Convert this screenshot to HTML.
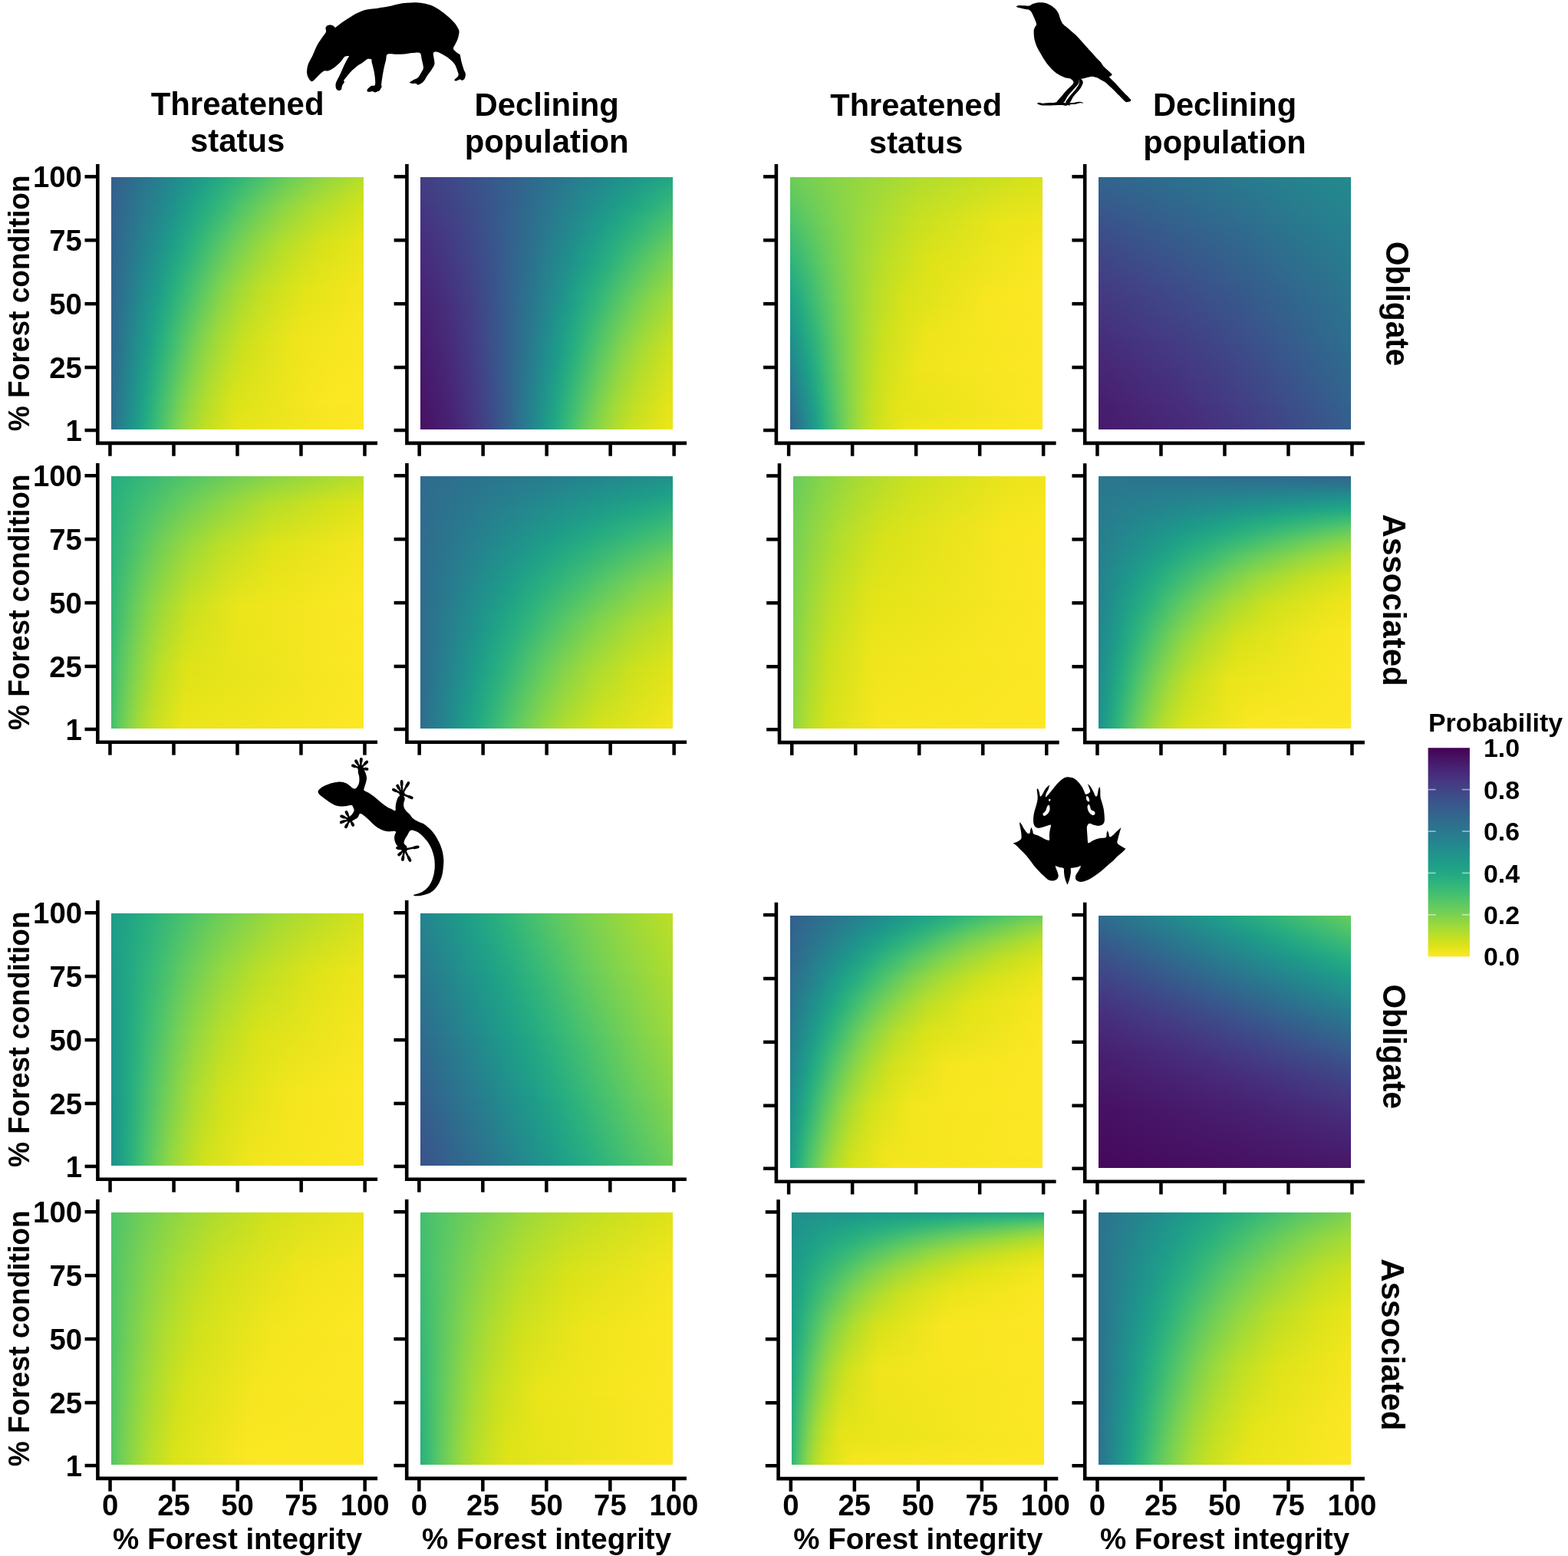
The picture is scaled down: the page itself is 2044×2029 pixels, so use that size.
<!DOCTYPE html>
<html lang="en"><head><meta charset="utf-8"><title>Forest integrity and condition: probability of threatened status and declining population</title>
<style>
html,body{margin:0;padding:0;background:#fff}
body{width:2044px;height:2029px;overflow:hidden}
svg{display:block}
text{font-family:"Liberation Sans",Arial,Helvetica,sans-serif;font-weight:bold;fill:#000}
</style></head><body>
<svg width="2044" height="2029" viewBox="0 0 2044 2029">
<defs>
<linearGradient id="vg" x1="0" y1="0" x2="0" y2="1"><stop offset="0" stop-color="#fff" stop-opacity="0"/><stop offset="1" stop-color="#fff" stop-opacity="1"/></linearGradient>
<mask id="vm" maskContentUnits="objectBoundingBox"><rect width="1" height="1" fill="url(#vg)"/></mask>
<linearGradient id="g1"><stop offset="0" stop-color="#355f8d"/><stop offset=".079" stop-color="#2f6c8e"/><stop offset=".152" stop-color="#2a788e"/><stop offset=".226" stop-color="#25858e"/><stop offset=".299" stop-color="#20928c"/><stop offset=".372" stop-color="#1f9f88"/><stop offset=".445" stop-color="#25ac82"/><stop offset=".524" stop-color="#35b779"/><stop offset=".61" stop-color="#4ec36b"/><stop offset=".701" stop-color="#69cd5b"/><stop offset=".811" stop-color="#89d548"/><stop offset=".945" stop-color="#aadc32"/><stop offset="1" stop-color="#b8de29"/></linearGradient>
<linearGradient id="g2"><stop offset="0" stop-color="#34618d"/><stop offset=".067" stop-color="#2e6f8e"/><stop offset=".128" stop-color="#297b8e"/><stop offset=".189" stop-color="#24878e"/><stop offset=".25" stop-color="#1f948c"/><stop offset=".311" stop-color="#1fa188"/><stop offset=".372" stop-color="#27ad81"/><stop offset=".439" stop-color="#38b977"/><stop offset=".512" stop-color="#52c569"/><stop offset=".591" stop-color="#6ece58"/><stop offset=".683" stop-color="#8ed645"/><stop offset=".805" stop-color="#b0dd2f"/><stop offset=".982" stop-color="#d2e21b"/><stop offset="1" stop-color="#d5e21a"/></linearGradient>
<linearGradient id="g3"><stop offset="0" stop-color="#32648e"/><stop offset=".055" stop-color="#2d718e"/><stop offset=".11" stop-color="#277e8e"/><stop offset=".159" stop-color="#238a8d"/><stop offset=".207" stop-color="#1f968b"/><stop offset=".256" stop-color="#1fa287"/><stop offset=".311" stop-color="#29af7f"/><stop offset=".366" stop-color="#3bbb75"/><stop offset=".427" stop-color="#56c667"/><stop offset=".494" stop-color="#73d056"/><stop offset=".573" stop-color="#93d741"/><stop offset=".677" stop-color="#b5de2b"/><stop offset=".835" stop-color="#d8e219"/><stop offset="1" stop-color="#eae51a"/></linearGradient>
<linearGradient id="g4"><stop offset="0" stop-color="#31678e"/><stop offset=".049" stop-color="#2b748e"/><stop offset=".091" stop-color="#26818e"/><stop offset=".134" stop-color="#218e8d"/><stop offset=".177" stop-color="#1f9a8a"/><stop offset=".22" stop-color="#22a785"/><stop offset=".262" stop-color="#2eb37c"/><stop offset=".311" stop-color="#42be71"/><stop offset=".366" stop-color="#5ec962"/><stop offset=".427" stop-color="#7fd34e"/><stop offset=".5" stop-color="#a0da39"/><stop offset=".598" stop-color="#c2df23"/><stop offset=".762" stop-color="#e2e418"/><stop offset="1" stop-color="#f6e620"/></linearGradient>
<linearGradient id="g5"><stop offset="0" stop-color="#306a8e"/><stop offset=".037" stop-color="#2a768e"/><stop offset=".073" stop-color="#25838e"/><stop offset=".11" stop-color="#21918c"/><stop offset=".146" stop-color="#1e9d89"/><stop offset=".183" stop-color="#24aa83"/><stop offset=".22" stop-color="#32b67a"/><stop offset=".262" stop-color="#4ac16d"/><stop offset=".311" stop-color="#67cc5c"/><stop offset=".366" stop-color="#89d548"/><stop offset=".433" stop-color="#aadc32"/><stop offset=".53" stop-color="#cde11d"/><stop offset=".726" stop-color="#efe51c"/><stop offset="1" stop-color="#fbe723"/></linearGradient>
<linearGradient id="g6"><stop offset="0" stop-color="#2e6e8e"/><stop offset=".03" stop-color="#297a8e"/><stop offset=".061" stop-color="#24878e"/><stop offset=".091" stop-color="#1f948c"/><stop offset=".122" stop-color="#1fa188"/><stop offset=".152" stop-color="#27ad81"/><stop offset=".189" stop-color="#3bbb75"/><stop offset=".226" stop-color="#54c568"/><stop offset=".268" stop-color="#73d056"/><stop offset=".317" stop-color="#95d840"/><stop offset=".384" stop-color="#b8de29"/><stop offset=".488" stop-color="#dde318"/><stop offset=".866" stop-color="#fbe723"/><stop offset="1" stop-color="#fde725"/></linearGradient>
<linearGradient id="g7"><stop offset="0" stop-color="#2d708e"/><stop offset=".03" stop-color="#287d8e"/><stop offset=".061" stop-color="#228b8d"/><stop offset=".091" stop-color="#1f988b"/><stop offset=".122" stop-color="#21a685"/><stop offset=".152" stop-color="#2db27d"/><stop offset=".183" stop-color="#40bd72"/><stop offset=".22" stop-color="#5cc863"/><stop offset=".262" stop-color="#7fd34e"/><stop offset=".311" stop-color="#a0da39"/><stop offset=".378" stop-color="#c2df23"/><stop offset=".494" stop-color="#e5e419"/><stop offset="1" stop-color="#fde725"/></linearGradient>
<linearGradient id="g8"><stop offset="0" stop-color="#433e85"/><stop offset=".165" stop-color="#3d4d8a"/><stop offset=".305" stop-color="#375b8d"/><stop offset=".433" stop-color="#30698e"/><stop offset=".549" stop-color="#2b758e"/><stop offset=".659" stop-color="#26828e"/><stop offset=".768" stop-color="#218e8d"/><stop offset=".878" stop-color="#1f9a8a"/><stop offset=".988" stop-color="#21a685"/><stop offset="1" stop-color="#22a884"/></linearGradient>
<linearGradient id="g9"><stop offset="0" stop-color="#453781"/><stop offset=".146" stop-color="#3f4788"/><stop offset=".268" stop-color="#39558c"/><stop offset=".372" stop-color="#33638d"/><stop offset=".47" stop-color="#2d708e"/><stop offset=".561" stop-color="#287d8e"/><stop offset=".652" stop-color="#23898e"/><stop offset=".738" stop-color="#1f958b"/><stop offset=".823" stop-color="#1fa187"/><stop offset=".915" stop-color="#27ad81"/><stop offset="1" stop-color="#37b878"/></linearGradient>
<linearGradient id="g10"><stop offset="0" stop-color="#46307e"/><stop offset=".134" stop-color="#424086"/><stop offset=".238" stop-color="#3c4f8a"/><stop offset=".329" stop-color="#365d8d"/><stop offset=".415" stop-color="#2f6b8e"/><stop offset=".494" stop-color="#2a788e"/><stop offset=".567" stop-color="#25848e"/><stop offset=".64" stop-color="#21918c"/><stop offset=".713" stop-color="#1f9e89"/><stop offset=".787" stop-color="#24aa83"/><stop offset=".866" stop-color="#32b67a"/><stop offset=".951" stop-color="#4ac16d"/><stop offset="1" stop-color="#58c765"/></linearGradient>
<linearGradient id="g11"><stop offset="0" stop-color="#482979"/><stop offset=".122" stop-color="#443983"/><stop offset=".22" stop-color="#3f4889"/><stop offset=".299" stop-color="#39568c"/><stop offset=".372" stop-color="#32658e"/><stop offset=".439" stop-color="#2c728e"/><stop offset=".5" stop-color="#277f8e"/><stop offset=".561" stop-color="#228b8d"/><stop offset=".622" stop-color="#1f988b"/><stop offset=".683" stop-color="#20a486"/><stop offset=".744" stop-color="#2ab07f"/><stop offset=".811" stop-color="#3fbc73"/><stop offset=".884" stop-color="#58c765"/><stop offset=".97" stop-color="#77d153"/><stop offset="1" stop-color="#81d34d"/></linearGradient>
<linearGradient id="g12"><stop offset="0" stop-color="#482173"/><stop offset=".122" stop-color="#46327e"/><stop offset=".207" stop-color="#424186"/><stop offset=".28" stop-color="#3b518b"/><stop offset=".341" stop-color="#355f8d"/><stop offset=".396" stop-color="#2f6c8e"/><stop offset=".451" stop-color="#29798e"/><stop offset=".5" stop-color="#25858e"/><stop offset=".549" stop-color="#20928c"/><stop offset=".598" stop-color="#1f9f88"/><stop offset=".646" stop-color="#25ab82"/><stop offset=".701" stop-color="#34b679"/><stop offset=".762" stop-color="#4cc26c"/><stop offset=".829" stop-color="#69cd5b"/><stop offset=".909" stop-color="#8bd646"/><stop offset="1" stop-color="#aadc32"/></linearGradient>
<linearGradient id="g13"><stop offset="0" stop-color="#481a6c"/><stop offset=".122" stop-color="#472c7a"/><stop offset=".201" stop-color="#443b84"/><stop offset=".268" stop-color="#3e4c8a"/><stop offset=".323" stop-color="#375a8c"/><stop offset=".372" stop-color="#31688e"/><stop offset=".415" stop-color="#2b748e"/><stop offset=".457" stop-color="#26818e"/><stop offset=".5" stop-color="#218e8d"/><stop offset=".543" stop-color="#1e9b8a"/><stop offset=".585" stop-color="#22a884"/><stop offset=".628" stop-color="#2fb47c"/><stop offset=".677" stop-color="#46c06f"/><stop offset=".732" stop-color="#63cb5f"/><stop offset=".793" stop-color="#84d44b"/><stop offset=".866" stop-color="#a5db36"/><stop offset=".97" stop-color="#c8e020"/><stop offset="1" stop-color="#d0e11c"/></linearGradient>
<linearGradient id="g14"><stop offset="0" stop-color="#471365"/><stop offset=".128" stop-color="#482576"/><stop offset=".207" stop-color="#453781"/><stop offset=".262" stop-color="#404688"/><stop offset=".311" stop-color="#39558c"/><stop offset=".354" stop-color="#33638d"/><stop offset=".39" stop-color="#2d718e"/><stop offset=".427" stop-color="#277e8e"/><stop offset=".463" stop-color="#228b8d"/><stop offset=".5" stop-color="#1f998a"/><stop offset=".537" stop-color="#21a685"/><stop offset=".573" stop-color="#2eb37c"/><stop offset=".61" stop-color="#42be71"/><stop offset=".652" stop-color="#5cc863"/><stop offset=".701" stop-color="#7cd250"/><stop offset=".762" stop-color="#a0da39"/><stop offset=".841" stop-color="#c2df23"/><stop offset=".976" stop-color="#e5e419"/><stop offset="1" stop-color="#e7e419"/></linearGradient>
<linearGradient id="g15"><stop offset="0" stop-color="#471164"/><stop offset=".128" stop-color="#482374"/><stop offset=".201" stop-color="#46337f"/><stop offset=".256" stop-color="#414287"/><stop offset=".305" stop-color="#3b528b"/><stop offset=".348" stop-color="#33628d"/><stop offset=".384" stop-color="#2e6f8e"/><stop offset=".421" stop-color="#287d8e"/><stop offset=".457" stop-color="#228b8d"/><stop offset=".488" stop-color="#1f978b"/><stop offset=".524" stop-color="#21a585"/><stop offset=".561" stop-color="#2eb37c"/><stop offset=".598" stop-color="#44bf70"/><stop offset=".64" stop-color="#60ca60"/><stop offset=".689" stop-color="#81d34d"/><stop offset=".75" stop-color="#a5db36"/><stop offset=".829" stop-color="#c8e020"/><stop offset=".976" stop-color="#eae51a"/><stop offset="1" stop-color="#ece51b"/></linearGradient>
<linearGradient id="g16"><stop offset="0" stop-color="#26ad81"/><stop offset=".14" stop-color="#37b878"/><stop offset=".293" stop-color="#50c46a"/><stop offset=".463" stop-color="#6ccd5a"/><stop offset=".659" stop-color="#8bd646"/><stop offset=".909" stop-color="#addc30"/><stop offset="1" stop-color="#b8de29"/></linearGradient>
<linearGradient id="g17"><stop offset="0" stop-color="#29af7f"/><stop offset=".091" stop-color="#3bbb75"/><stop offset=".195" stop-color="#54c568"/><stop offset=".311" stop-color="#70cf57"/><stop offset=".445" stop-color="#90d743"/><stop offset=".622" stop-color="#b5de2b"/><stop offset=".884" stop-color="#d5e21a"/><stop offset="1" stop-color="#dfe318"/></linearGradient>
<linearGradient id="g18"><stop offset="0" stop-color="#2db27d"/><stop offset=".061" stop-color="#40bd72"/><stop offset=".128" stop-color="#5ac864"/><stop offset=".207" stop-color="#7ad151"/><stop offset=".305" stop-color="#9bd93c"/><stop offset=".433" stop-color="#bddf26"/><stop offset=".64" stop-color="#dfe318"/><stop offset="1" stop-color="#f6e620"/></linearGradient>
<linearGradient id="g19"><stop offset="0" stop-color="#34b679"/><stop offset=".043" stop-color="#4ac16d"/><stop offset=".091" stop-color="#67cc5c"/><stop offset=".146" stop-color="#86d549"/><stop offset=".22" stop-color="#a8db34"/><stop offset=".317" stop-color="#cae11f"/><stop offset=".506" stop-color="#ece51b"/><stop offset="1" stop-color="#fde725"/></linearGradient>
<linearGradient id="g20"><stop offset="0" stop-color="#3bbb75"/><stop offset=".037" stop-color="#58c765"/><stop offset=".079" stop-color="#77d153"/><stop offset=".128" stop-color="#98d83e"/><stop offset=".195" stop-color="#bddf26"/><stop offset=".299" stop-color="#dfe318"/><stop offset="1" stop-color="#fde725"/></linearGradient>
<linearGradient id="g21"><stop offset="0" stop-color="#44bf70"/><stop offset=".03" stop-color="#60ca60"/><stop offset=".067" stop-color="#81d34d"/><stop offset=".11" stop-color="#a5db36"/><stop offset=".171" stop-color="#c8e020"/><stop offset=".28" stop-color="#eae51a"/><stop offset="1" stop-color="#fde725"/></linearGradient>
<linearGradient id="g22"><stop offset="0" stop-color="#2f6c8e"/><stop offset=".348" stop-color="#2a788e"/><stop offset=".683" stop-color="#25848e"/><stop offset="1" stop-color="#21918c"/></linearGradient>
<linearGradient id="g23"><stop offset="0" stop-color="#2f6c8e"/><stop offset=".238" stop-color="#2a788e"/><stop offset=".463" stop-color="#25848e"/><stop offset=".689" stop-color="#21918c"/><stop offset=".915" stop-color="#1e9d89"/><stop offset="1" stop-color="#1fa187"/></linearGradient>
<linearGradient id="g24"><stop offset="0" stop-color="#2f6c8e"/><stop offset=".177" stop-color="#2a788e"/><stop offset=".348" stop-color="#25848e"/><stop offset=".518" stop-color="#21918c"/><stop offset=".689" stop-color="#1e9d89"/><stop offset=".86" stop-color="#23a983"/><stop offset="1" stop-color="#2eb37c"/></linearGradient>
<linearGradient id="g25"><stop offset="0" stop-color="#2f6c8e"/><stop offset=".14" stop-color="#2a788e"/><stop offset=".274" stop-color="#25848e"/><stop offset=".409" stop-color="#21918c"/><stop offset=".543" stop-color="#1e9d89"/><stop offset=".677" stop-color="#23a983"/><stop offset=".817" stop-color="#31b57b"/><stop offset=".97" stop-color="#46c06f"/><stop offset="1" stop-color="#4cc26c"/></linearGradient>
<linearGradient id="g26"><stop offset="0" stop-color="#2f6c8e"/><stop offset=".116" stop-color="#2a788e"/><stop offset=".226" stop-color="#25858e"/><stop offset=".335" stop-color="#20928c"/><stop offset=".445" stop-color="#1f9e89"/><stop offset=".555" stop-color="#25ab82"/><stop offset=".671" stop-color="#34b679"/><stop offset=".793" stop-color="#4ac16d"/><stop offset=".933" stop-color="#65cb5e"/><stop offset="1" stop-color="#73d056"/></linearGradient>
<linearGradient id="g27"><stop offset="0" stop-color="#2f6c8e"/><stop offset=".091" stop-color="#2a788e"/><stop offset=".183" stop-color="#25858e"/><stop offset=".268" stop-color="#20928c"/><stop offset=".354" stop-color="#1f9e89"/><stop offset=".445" stop-color="#25ab82"/><stop offset=".537" stop-color="#34b679"/><stop offset=".634" stop-color="#48c16e"/><stop offset=".744" stop-color="#63cb5f"/><stop offset=".872" stop-color="#84d44b"/><stop offset="1" stop-color="#9dd93b"/></linearGradient>
<linearGradient id="g28"><stop offset="0" stop-color="#2f6c8e"/><stop offset=".073" stop-color="#2a788e"/><stop offset=".146" stop-color="#25858e"/><stop offset=".22" stop-color="#20928c"/><stop offset=".293" stop-color="#1fa088"/><stop offset=".366" stop-color="#25ac82"/><stop offset=".439" stop-color="#35b779"/><stop offset=".518" stop-color="#4cc26c"/><stop offset=".61" stop-color="#67cc5c"/><stop offset=".713" stop-color="#86d549"/><stop offset=".841" stop-color="#a8db34"/><stop offset="1" stop-color="#c5e021"/></linearGradient>
<linearGradient id="g29"><stop offset="0" stop-color="#2f6c8e"/><stop offset=".061" stop-color="#29798e"/><stop offset=".122" stop-color="#24868e"/><stop offset=".177" stop-color="#20928c"/><stop offset=".232" stop-color="#1f9f88"/><stop offset=".293" stop-color="#25ac82"/><stop offset=".354" stop-color="#35b779"/><stop offset=".421" stop-color="#4ec36b"/><stop offset=".494" stop-color="#69cd5b"/><stop offset=".579" stop-color="#89d548"/><stop offset=".689" stop-color="#aadc32"/><stop offset=".841" stop-color="#cde11d"/><stop offset="1" stop-color="#e2e418"/></linearGradient>
<linearGradient id="g30"><stop offset="0" stop-color="#2f6c8e"/><stop offset=".049" stop-color="#29798e"/><stop offset=".098" stop-color="#24868e"/><stop offset=".146" stop-color="#20938c"/><stop offset=".195" stop-color="#1fa188"/><stop offset=".244" stop-color="#27ad81"/><stop offset=".293" stop-color="#38b977"/><stop offset=".348" stop-color="#52c569"/><stop offset=".409" stop-color="#6ece58"/><stop offset=".482" stop-color="#90d743"/><stop offset=".573" stop-color="#b2dd2d"/><stop offset=".707" stop-color="#d5e21a"/><stop offset="1" stop-color="#f4e61e"/></linearGradient>
<linearGradient id="g31"><stop offset="0" stop-color="#6ece58"/><stop offset=".22" stop-color="#8ed645"/><stop offset=".5" stop-color="#b0dd2f"/><stop offset=".915" stop-color="#d2e21b"/><stop offset="1" stop-color="#d8e219"/></linearGradient>
<linearGradient id="g32"><stop offset="0" stop-color="#48c16e"/><stop offset=".091" stop-color="#65cb5e"/><stop offset=".195" stop-color="#84d44b"/><stop offset=".323" stop-color="#a5db36"/><stop offset=".5" stop-color="#c8e020"/><stop offset=".823" stop-color="#eae51a"/><stop offset="1" stop-color="#f1e51d"/></linearGradient>
<linearGradient id="g33"><stop offset="0" stop-color="#2cb17e"/><stop offset=".055" stop-color="#3fbc73"/><stop offset=".116" stop-color="#5ac864"/><stop offset=".183" stop-color="#77d153"/><stop offset=".268" stop-color="#9bd93c"/><stop offset=".378" stop-color="#bddf26"/><stop offset=".555" stop-color="#dfe318"/><stop offset="1" stop-color="#fbe723"/></linearGradient>
<linearGradient id="g34"><stop offset="0" stop-color="#1fa188"/><stop offset=".043" stop-color="#27ad81"/><stop offset=".085" stop-color="#3aba76"/><stop offset=".134" stop-color="#54c568"/><stop offset=".189" stop-color="#73d056"/><stop offset=".25" stop-color="#93d741"/><stop offset=".329" stop-color="#b5de2b"/><stop offset=".451" stop-color="#d8e219"/><stop offset=".78" stop-color="#f8e621"/><stop offset="1" stop-color="#fde725"/></linearGradient>
<linearGradient id="g35"><stop offset="0" stop-color="#21908d"/><stop offset=".03" stop-color="#1e9c89"/><stop offset=".067" stop-color="#24aa83"/><stop offset=".104" stop-color="#34b679"/><stop offset=".14" stop-color="#4ac16d"/><stop offset=".183" stop-color="#67cc5c"/><stop offset=".232" stop-color="#86d549"/><stop offset=".293" stop-color="#aadc32"/><stop offset=".378" stop-color="#cde11d"/><stop offset=".549" stop-color="#efe51c"/><stop offset="1" stop-color="#fde725"/></linearGradient>
<linearGradient id="g36"><stop offset="0" stop-color="#277f8e"/><stop offset=".03" stop-color="#228d8d"/><stop offset=".061" stop-color="#1e9b8a"/><stop offset=".091" stop-color="#23a983"/><stop offset=".122" stop-color="#32b67a"/><stop offset=".152" stop-color="#48c16e"/><stop offset=".189" stop-color="#65cb5e"/><stop offset=".232" stop-color="#86d549"/><stop offset=".287" stop-color="#aadc32"/><stop offset=".36" stop-color="#cde11d"/><stop offset=".506" stop-color="#efe51c"/><stop offset="1" stop-color="#fde725"/></linearGradient>
<linearGradient id="g37"><stop offset="0" stop-color="#2e6e8e"/><stop offset=".024" stop-color="#297a8e"/><stop offset=".049" stop-color="#24878e"/><stop offset=".073" stop-color="#1f948c"/><stop offset=".098" stop-color="#1fa188"/><stop offset=".122" stop-color="#27ad81"/><stop offset=".152" stop-color="#3dbc74"/><stop offset=".183" stop-color="#58c765"/><stop offset=".22" stop-color="#77d153"/><stop offset=".262" stop-color="#9bd93c"/><stop offset=".317" stop-color="#c0df25"/><stop offset=".409" stop-color="#e2e418"/><stop offset="1" stop-color="#fde725"/></linearGradient>
<linearGradient id="g38"><stop offset="0" stop-color="#32658e"/><stop offset=".024" stop-color="#2c718e"/><stop offset=".049" stop-color="#277f8e"/><stop offset=".073" stop-color="#228d8d"/><stop offset=".098" stop-color="#1e9b8a"/><stop offset=".122" stop-color="#23a983"/><stop offset=".146" stop-color="#32b67a"/><stop offset=".171" stop-color="#46c06f"/><stop offset=".201" stop-color="#65cb5e"/><stop offset=".238" stop-color="#89d548"/><stop offset=".28" stop-color="#aadc32"/><stop offset=".341" stop-color="#cde11d"/><stop offset=".463" stop-color="#efe51c"/><stop offset="1" stop-color="#fde725"/></linearGradient>
<linearGradient id="g39"><stop offset="0" stop-color="#32658e"/><stop offset=".335" stop-color="#2c718e"/><stop offset=".652" stop-color="#277e8e"/><stop offset=".957" stop-color="#238a8d"/><stop offset="1" stop-color="#228b8d"/></linearGradient>
<linearGradient id="g40"><stop offset="0" stop-color="#3b518b"/><stop offset=".293" stop-color="#34608d"/><stop offset=".555" stop-color="#2f6c8e"/><stop offset=".805" stop-color="#29798e"/><stop offset="1" stop-color="#26828e"/></linearGradient>
<linearGradient id="g41"><stop offset="0" stop-color="#433d84"/><stop offset=".28" stop-color="#3e4c8a"/><stop offset=".518" stop-color="#375a8c"/><stop offset=".732" stop-color="#31678e"/><stop offset=".927" stop-color="#2c738e"/><stop offset="1" stop-color="#2a788e"/></linearGradient>
<linearGradient id="g42"><stop offset="0" stop-color="#472c7a"/><stop offset=".293" stop-color="#443b84"/><stop offset=".524" stop-color="#3e4a89"/><stop offset=".72" stop-color="#38598c"/><stop offset=".896" stop-color="#31668e"/><stop offset="1" stop-color="#2e6e8e"/></linearGradient>
<linearGradient id="g43"><stop offset="0" stop-color="#481d6f"/><stop offset=".329" stop-color="#472e7c"/><stop offset=".561" stop-color="#433e85"/><stop offset=".75" stop-color="#3d4d8a"/><stop offset=".915" stop-color="#365c8d"/><stop offset="1" stop-color="#33638d"/></linearGradient>
<linearGradient id="g44"><stop offset="0" stop-color="#481a6c"/><stop offset=".348" stop-color="#472a7a"/><stop offset=".585" stop-color="#443a83"/><stop offset=".768" stop-color="#3e4989"/><stop offset=".927" stop-color="#38588c"/><stop offset="1" stop-color="#355f8d"/></linearGradient>
<linearGradient id="g45"><stop offset="0" stop-color="#67cc5c"/><stop offset=".116" stop-color="#86d549"/><stop offset=".262" stop-color="#a8db34"/><stop offset=".47" stop-color="#cae11f"/><stop offset=".872" stop-color="#ece51b"/><stop offset="1" stop-color="#f1e51d"/></linearGradient>
<linearGradient id="g46"><stop offset="0" stop-color="#73d056"/><stop offset=".085" stop-color="#93d741"/><stop offset=".195" stop-color="#b5de2b"/><stop offset=".36" stop-color="#d8e219"/><stop offset=".835" stop-color="#f8e621"/><stop offset="1" stop-color="#fbe723"/></linearGradient>
<linearGradient id="g47"><stop offset="0" stop-color="#7cd250"/><stop offset=".067" stop-color="#9dd93b"/><stop offset=".159" stop-color="#c0df25"/><stop offset=".311" stop-color="#e2e418"/><stop offset="1" stop-color="#fde725"/></linearGradient>
<linearGradient id="g48"><stop offset="0" stop-color="#84d44b"/><stop offset=".061" stop-color="#a8db34"/><stop offset=".146" stop-color="#cde11d"/><stop offset=".311" stop-color="#efe51c"/><stop offset="1" stop-color="#fde725"/></linearGradient>
<linearGradient id="g49"><stop offset="0" stop-color="#8ed645"/><stop offset=".055" stop-color="#b2dd2d"/><stop offset=".134" stop-color="#d5e21a"/><stop offset=".335" stop-color="#f6e620"/><stop offset="1" stop-color="#fde725"/></linearGradient>
<linearGradient id="g50"><stop offset="0" stop-color="#8ed645"/><stop offset=".055" stop-color="#b5de2b"/><stop offset=".134" stop-color="#d8e219"/><stop offset=".341" stop-color="#f8e621"/><stop offset="1" stop-color="#fde725"/></linearGradient>
<linearGradient id="g51"><stop offset="0" stop-color="#2a778e"/><stop offset=".652" stop-color="#2f6b8e"/><stop offset="1" stop-color="#32658e"/></linearGradient>
<linearGradient id="g52"><stop offset="0" stop-color="#2a788e"/><stop offset="1" stop-color="#2a778e"/></linearGradient>
<linearGradient id="g53"><stop offset="0" stop-color="#29798e"/><stop offset=".768" stop-color="#25858e"/><stop offset="1" stop-color="#23898e"/></linearGradient>
<linearGradient id="g54"><stop offset="0" stop-color="#297a8e"/><stop offset=".372" stop-color="#24868e"/><stop offset=".738" stop-color="#20928c"/><stop offset="1" stop-color="#1e9b8a"/></linearGradient>
<linearGradient id="g55"><stop offset="0" stop-color="#297b8e"/><stop offset=".244" stop-color="#24868e"/><stop offset=".488" stop-color="#20928c"/><stop offset=".732" stop-color="#1f9f88"/><stop offset=".982" stop-color="#25ab82"/><stop offset="1" stop-color="#25ac82"/></linearGradient>
<linearGradient id="g56"><stop offset="0" stop-color="#297b8e"/><stop offset=".183" stop-color="#23888e"/><stop offset=".36" stop-color="#1f948c"/><stop offset=".537" stop-color="#1fa188"/><stop offset=".72" stop-color="#26ad81"/><stop offset=".915" stop-color="#37b878"/><stop offset="1" stop-color="#3fbc73"/></linearGradient>
<linearGradient id="g57"><stop offset="0" stop-color="#287d8e"/><stop offset=".14" stop-color="#23898e"/><stop offset=".28" stop-color="#1f958b"/><stop offset=".421" stop-color="#1fa187"/><stop offset=".561" stop-color="#27ad81"/><stop offset=".713" stop-color="#38b977"/><stop offset=".878" stop-color="#50c46a"/><stop offset="1" stop-color="#63cb5f"/></linearGradient>
<linearGradient id="g58"><stop offset="0" stop-color="#277e8e"/><stop offset=".11" stop-color="#238a8d"/><stop offset=".22" stop-color="#1f968b"/><stop offset=".329" stop-color="#20a386"/><stop offset=".445" stop-color="#29af7f"/><stop offset=".567" stop-color="#3bbb75"/><stop offset=".695" stop-color="#54c568"/><stop offset=".841" stop-color="#70cf57"/><stop offset="1" stop-color="#8ed645"/></linearGradient>
<linearGradient id="g59"><stop offset="0" stop-color="#277f8e"/><stop offset=".085" stop-color="#228c8d"/><stop offset=".171" stop-color="#1f988b"/><stop offset=".256" stop-color="#20a486"/><stop offset=".348" stop-color="#2cb17e"/><stop offset=".445" stop-color="#3fbc73"/><stop offset=".549" stop-color="#5ac864"/><stop offset=".665" stop-color="#75d054"/><stop offset=".805" stop-color="#95d840"/><stop offset=".988" stop-color="#b8de29"/><stop offset="1" stop-color="#bade28"/></linearGradient>
<linearGradient id="g60"><stop offset="0" stop-color="#26828e"/><stop offset=".067" stop-color="#218e8d"/><stop offset=".134" stop-color="#1e9b8a"/><stop offset=".201" stop-color="#22a785"/><stop offset=".274" stop-color="#2fb47c"/><stop offset=".348" stop-color="#44bf70"/><stop offset=".433" stop-color="#5ec962"/><stop offset=".53" stop-color="#7fd34e"/><stop offset=".646" stop-color="#a0da39"/><stop offset=".805" stop-color="#c2df23"/><stop offset="1" stop-color="#dde318"/></linearGradient>
<linearGradient id="g61"><stop offset="0" stop-color="#25838e"/><stop offset=".055" stop-color="#21918c"/><stop offset=".11" stop-color="#1f9f88"/><stop offset=".165" stop-color="#25ab82"/><stop offset=".22" stop-color="#34b679"/><stop offset=".28" stop-color="#4cc26c"/><stop offset=".348" stop-color="#67cc5c"/><stop offset=".427" stop-color="#86d549"/><stop offset=".524" stop-color="#a8db34"/><stop offset=".665" stop-color="#cde11d"/><stop offset=".933" stop-color="#ece51b"/><stop offset="1" stop-color="#f1e51d"/></linearGradient>
<linearGradient id="g62"><stop offset="0" stop-color="#24878e"/><stop offset=".043" stop-color="#1f948c"/><stop offset=".085" stop-color="#1fa187"/><stop offset=".128" stop-color="#28ae80"/><stop offset=".171" stop-color="#38b977"/><stop offset=".22" stop-color="#52c569"/><stop offset=".274" stop-color="#6ece58"/><stop offset=".341" stop-color="#90d743"/><stop offset=".427" stop-color="#b2dd2d"/><stop offset=".555" stop-color="#d8e219"/><stop offset=".884" stop-color="#f6e620"/><stop offset="1" stop-color="#fbe723"/></linearGradient>
<linearGradient id="g63"><stop offset="0" stop-color="#228c8d"/><stop offset=".03" stop-color="#1f978b"/><stop offset=".067" stop-color="#21a685"/><stop offset=".104" stop-color="#2eb37c"/><stop offset=".14" stop-color="#44bf70"/><stop offset=".183" stop-color="#60ca60"/><stop offset=".232" stop-color="#81d34d"/><stop offset=".293" stop-color="#a5db36"/><stop offset=".372" stop-color="#c8e020"/><stop offset=".518" stop-color="#eae51a"/><stop offset="1" stop-color="#fde725"/></linearGradient>
<linearGradient id="g64"><stop offset="0" stop-color="#21918c"/><stop offset=".03" stop-color="#1f9f88"/><stop offset=".061" stop-color="#27ad81"/><stop offset=".091" stop-color="#3aba76"/><stop offset=".122" stop-color="#54c568"/><stop offset=".159" stop-color="#73d056"/><stop offset=".201" stop-color="#93d741"/><stop offset=".256" stop-color="#b8de29"/><stop offset=".341" stop-color="#dae319"/><stop offset=".604" stop-color="#fbe723"/><stop offset="1" stop-color="#fde725"/></linearGradient>
<linearGradient id="g65"><stop offset="0" stop-color="#1e9c89"/><stop offset=".085" stop-color="#22a884"/><stop offset=".177" stop-color="#2fb47c"/><stop offset=".274" stop-color="#44bf70"/><stop offset=".384" stop-color="#60ca60"/><stop offset=".506" stop-color="#7cd250"/><stop offset=".659" stop-color="#a0da39"/><stop offset=".86" stop-color="#c0df25"/><stop offset="1" stop-color="#d2e21b"/></linearGradient>
<linearGradient id="g66"><stop offset="0" stop-color="#1f998a"/><stop offset=".061" stop-color="#21a685"/><stop offset=".122" stop-color="#2db27d"/><stop offset=".189" stop-color="#40bd72"/><stop offset=".262" stop-color="#5ac864"/><stop offset=".348" stop-color="#7ad151"/><stop offset=".451" stop-color="#9bd93c"/><stop offset=".585" stop-color="#bddf26"/><stop offset=".805" stop-color="#dfe318"/><stop offset="1" stop-color="#efe51c"/></linearGradient>
<linearGradient id="g67"><stop offset="0" stop-color="#1f968b"/><stop offset=".049" stop-color="#20a386"/><stop offset=".098" stop-color="#2ab07f"/><stop offset=".146" stop-color="#3dbc74"/><stop offset=".201" stop-color="#56c667"/><stop offset=".262" stop-color="#73d056"/><stop offset=".335" stop-color="#95d840"/><stop offset=".433" stop-color="#b8de29"/><stop offset=".579" stop-color="#dae319"/><stop offset="1" stop-color="#f8e621"/></linearGradient>
<linearGradient id="g68"><stop offset="0" stop-color="#20938c"/><stop offset=".037" stop-color="#1fa088"/><stop offset=".073" stop-color="#25ac82"/><stop offset=".116" stop-color="#38b977"/><stop offset=".159" stop-color="#50c46a"/><stop offset=".207" stop-color="#6ccd5a"/><stop offset=".268" stop-color="#8ed645"/><stop offset=".341" stop-color="#b2dd2d"/><stop offset=".451" stop-color="#d5e21a"/><stop offset=".707" stop-color="#f4e61e"/><stop offset="1" stop-color="#fde725"/></linearGradient>
<linearGradient id="g69"><stop offset="0" stop-color="#21918c"/><stop offset=".03" stop-color="#1e9d89"/><stop offset=".061" stop-color="#23a983"/><stop offset=".098" stop-color="#34b679"/><stop offset=".134" stop-color="#4cc26c"/><stop offset=".177" stop-color="#69cd5b"/><stop offset=".226" stop-color="#8bd646"/><stop offset=".287" stop-color="#addc30"/><stop offset=".372" stop-color="#d0e11c"/><stop offset=".555" stop-color="#f1e51d"/><stop offset="1" stop-color="#fde725"/></linearGradient>
<linearGradient id="g70"><stop offset="0" stop-color="#21918c"/><stop offset=".03" stop-color="#1e9d89"/><stop offset=".061" stop-color="#23a983"/><stop offset=".098" stop-color="#35b779"/><stop offset=".134" stop-color="#4ec36b"/><stop offset=".177" stop-color="#6ccd5a"/><stop offset=".226" stop-color="#8ed645"/><stop offset=".287" stop-color="#b0dd2f"/><stop offset=".378" stop-color="#d5e21a"/><stop offset=".591" stop-color="#f4e61e"/><stop offset="1" stop-color="#fde725"/></linearGradient>
<linearGradient id="g71"><stop offset="0" stop-color="#25848e"/><stop offset=".085" stop-color="#21918c"/><stop offset=".171" stop-color="#1e9d89"/><stop offset=".262" stop-color="#24aa83"/><stop offset=".354" stop-color="#32b67a"/><stop offset=".451" stop-color="#48c16e"/><stop offset=".561" stop-color="#63cb5f"/><stop offset=".689" stop-color="#81d34d"/><stop offset=".848" stop-color="#a2da37"/><stop offset="1" stop-color="#bddf26"/></linearGradient>
<linearGradient id="g72"><stop offset="0" stop-color="#2a778e"/><stop offset=".091" stop-color="#25848e"/><stop offset=".177" stop-color="#21918c"/><stop offset=".262" stop-color="#1e9d89"/><stop offset=".354" stop-color="#23a983"/><stop offset=".445" stop-color="#31b57b"/><stop offset=".543" stop-color="#46c06f"/><stop offset=".652" stop-color="#63cb5f"/><stop offset=".78" stop-color="#81d34d"/><stop offset=".939" stop-color="#a2da37"/><stop offset="1" stop-color="#addc30"/></linearGradient>
<linearGradient id="g73"><stop offset="0" stop-color="#2f6b8e"/><stop offset=".091" stop-color="#2a778e"/><stop offset=".183" stop-color="#25848e"/><stop offset=".268" stop-color="#21918c"/><stop offset=".354" stop-color="#1e9d89"/><stop offset=".445" stop-color="#23a983"/><stop offset=".537" stop-color="#31b57b"/><stop offset=".634" stop-color="#46c06f"/><stop offset=".744" stop-color="#60ca60"/><stop offset=".872" stop-color="#81d34d"/><stop offset="1" stop-color="#9dd93b"/></linearGradient>
<linearGradient id="g74"><stop offset="0" stop-color="#355f8d"/><stop offset=".098" stop-color="#2f6c8e"/><stop offset=".189" stop-color="#2a788e"/><stop offset=".28" stop-color="#25848e"/><stop offset=".366" stop-color="#21918c"/><stop offset=".451" stop-color="#1e9d89"/><stop offset=".543" stop-color="#24aa83"/><stop offset=".634" stop-color="#32b67a"/><stop offset=".732" stop-color="#48c16e"/><stop offset=".841" stop-color="#63cb5f"/><stop offset=".97" stop-color="#81d34d"/><stop offset="1" stop-color="#89d548"/></linearGradient>
<linearGradient id="g75"><stop offset="0" stop-color="#3a538b"/><stop offset=".11" stop-color="#34618d"/><stop offset=".207" stop-color="#2e6e8e"/><stop offset=".299" stop-color="#297a8e"/><stop offset=".39" stop-color="#24878e"/><stop offset=".476" stop-color="#20938c"/><stop offset=".561" stop-color="#1fa088"/><stop offset=".652" stop-color="#25ac82"/><stop offset=".75" stop-color="#37b878"/><stop offset=".854" stop-color="#4ec36b"/><stop offset=".97" stop-color="#69cd5b"/><stop offset="1" stop-color="#70cf57"/></linearGradient>
<linearGradient id="g76"><stop offset="0" stop-color="#3b518b"/><stop offset=".11" stop-color="#34608d"/><stop offset=".207" stop-color="#2e6d8e"/><stop offset=".299" stop-color="#29798e"/><stop offset=".39" stop-color="#25858e"/><stop offset=".476" stop-color="#20928c"/><stop offset=".561" stop-color="#1f9e89"/><stop offset=".652" stop-color="#25ab82"/><stop offset=".744" stop-color="#32b67a"/><stop offset=".848" stop-color="#4ac16d"/><stop offset=".957" stop-color="#65cb5e"/><stop offset="1" stop-color="#6ece58"/></linearGradient>
<linearGradient id="g77"><stop offset="0" stop-color="#4ec36b"/><stop offset=".11" stop-color="#6ccd5a"/><stop offset=".238" stop-color="#8bd646"/><stop offset=".396" stop-color="#addc30"/><stop offset=".622" stop-color="#d0e11c"/><stop offset="1" stop-color="#ece51b"/></linearGradient>
<linearGradient id="g78"><stop offset="0" stop-color="#50c46a"/><stop offset=".073" stop-color="#6ccd5a"/><stop offset=".159" stop-color="#8bd646"/><stop offset=".268" stop-color="#addc30"/><stop offset=".427" stop-color="#d0e11c"/><stop offset=".756" stop-color="#f1e51d"/><stop offset="1" stop-color="#f8e621"/></linearGradient>
<linearGradient id="g79"><stop offset="0" stop-color="#50c46a"/><stop offset=".061" stop-color="#6ece58"/><stop offset=".128" stop-color="#8ed645"/><stop offset=".213" stop-color="#b0dd2f"/><stop offset=".341" stop-color="#d2e21b"/><stop offset=".64" stop-color="#f4e61e"/><stop offset="1" stop-color="#fde725"/></linearGradient>
<linearGradient id="g80"><stop offset="0" stop-color="#52c569"/><stop offset=".049" stop-color="#70cf57"/><stop offset=".104" stop-color="#90d743"/><stop offset=".177" stop-color="#b2dd2d"/><stop offset=".287" stop-color="#d8e219"/><stop offset=".567" stop-color="#f6e620"/><stop offset="1" stop-color="#fde725"/></linearGradient>
<linearGradient id="g81"><stop offset="0" stop-color="#54c568"/><stop offset=".043" stop-color="#73d056"/><stop offset=".091" stop-color="#93d741"/><stop offset=".152" stop-color="#b5de2b"/><stop offset=".25" stop-color="#dae319"/><stop offset=".537" stop-color="#fbe723"/><stop offset="1" stop-color="#fde725"/></linearGradient>
<linearGradient id="g82"><stop offset="0" stop-color="#54c568"/><stop offset=".043" stop-color="#73d056"/><stop offset=".091" stop-color="#95d840"/><stop offset=".152" stop-color="#b8de29"/><stop offset=".25" stop-color="#dae319"/><stop offset=".567" stop-color="#fbe723"/><stop offset="1" stop-color="#fde725"/></linearGradient>
<linearGradient id="g83"><stop offset="0" stop-color="#44bf70"/><stop offset=".122" stop-color="#5ec962"/><stop offset=".262" stop-color="#7cd250"/><stop offset=".433" stop-color="#a0da39"/><stop offset=".659" stop-color="#c0df25"/><stop offset="1" stop-color="#dfe318"/></linearGradient>
<linearGradient id="g84"><stop offset="0" stop-color="#3dbc74"/><stop offset=".073" stop-color="#56c667"/><stop offset=".159" stop-color="#73d056"/><stop offset=".256" stop-color="#93d741"/><stop offset=".384" stop-color="#b5de2b"/><stop offset=".579" stop-color="#d8e219"/><stop offset="1" stop-color="#f6e620"/></linearGradient>
<linearGradient id="g85"><stop offset="0" stop-color="#35b779"/><stop offset=".055" stop-color="#4ec36b"/><stop offset=".116" stop-color="#6ccd5a"/><stop offset=".183" stop-color="#8bd646"/><stop offset=".268" stop-color="#addc30"/><stop offset=".39" stop-color="#d0e11c"/><stop offset=".646" stop-color="#efe51c"/><stop offset="1" stop-color="#fbe723"/></linearGradient>
<linearGradient id="g86"><stop offset="0" stop-color="#2fb47c"/><stop offset=".043" stop-color="#46c06f"/><stop offset=".085" stop-color="#60ca60"/><stop offset=".14" stop-color="#81d34d"/><stop offset=".207" stop-color="#a5db36"/><stop offset=".299" stop-color="#c8e020"/><stop offset=".463" stop-color="#eae51a"/><stop offset="1" stop-color="#fde725"/></linearGradient>
<linearGradient id="g87"><stop offset="0" stop-color="#29af7f"/><stop offset=".037" stop-color="#3fbc73"/><stop offset=".073" stop-color="#5ac864"/><stop offset=".116" stop-color="#7ad151"/><stop offset=".165" stop-color="#9bd93c"/><stop offset=".232" stop-color="#bddf26"/><stop offset=".341" stop-color="#dfe318"/><stop offset="1" stop-color="#fde725"/></linearGradient>
<linearGradient id="g88"><stop offset="0" stop-color="#29af7f"/><stop offset=".03" stop-color="#3bbb75"/><stop offset=".067" stop-color="#56c667"/><stop offset=".11" stop-color="#75d054"/><stop offset=".159" stop-color="#98d83e"/><stop offset=".22" stop-color="#bade28"/><stop offset=".317" stop-color="#dde318"/><stop offset=".689" stop-color="#fde725"/><stop offset="1" stop-color="#fde725"/></linearGradient>
<linearGradient id="g89"><stop offset="0" stop-color="#355f8d"/><stop offset=".11" stop-color="#2f6c8e"/><stop offset=".213" stop-color="#2a788e"/><stop offset=".311" stop-color="#25848e"/><stop offset=".409" stop-color="#20928c"/><stop offset=".506" stop-color="#1f9e89"/><stop offset=".604" stop-color="#24aa83"/><stop offset=".707" stop-color="#32b67a"/><stop offset=".817" stop-color="#48c16e"/><stop offset=".939" stop-color="#63cb5f"/><stop offset="1" stop-color="#6ece58"/></linearGradient>
<linearGradient id="g90"><stop offset="0" stop-color="#33628d"/><stop offset=".091" stop-color="#2e6f8e"/><stop offset=".177" stop-color="#297b8e"/><stop offset=".262" stop-color="#23888e"/><stop offset=".348" stop-color="#1f948c"/><stop offset=".433" stop-color="#1fa187"/><stop offset=".518" stop-color="#27ad81"/><stop offset=".61" stop-color="#38b977"/><stop offset=".707" stop-color="#52c569"/><stop offset=".817" stop-color="#6ece58"/><stop offset=".945" stop-color="#8ed645"/><stop offset="1" stop-color="#98d83e"/></linearGradient>
<linearGradient id="g91"><stop offset="0" stop-color="#32658e"/><stop offset=".079" stop-color="#2c728e"/><stop offset=".152" stop-color="#277f8e"/><stop offset=".226" stop-color="#228c8d"/><stop offset=".299" stop-color="#1f998a"/><stop offset=".372" stop-color="#21a685"/><stop offset=".445" stop-color="#2db27d"/><stop offset=".524" stop-color="#40bd72"/><stop offset=".61" stop-color="#5cc863"/><stop offset=".707" stop-color="#7ad151"/><stop offset=".823" stop-color="#98d83e"/><stop offset=".982" stop-color="#bddf26"/><stop offset="1" stop-color="#c0df25"/></linearGradient>
<linearGradient id="g92"><stop offset="0" stop-color="#30698e"/><stop offset=".061" stop-color="#2b758e"/><stop offset=".122" stop-color="#26828e"/><stop offset=".183" stop-color="#218f8d"/><stop offset=".244" stop-color="#1e9c89"/><stop offset=".305" stop-color="#23a983"/><stop offset=".366" stop-color="#31b57b"/><stop offset=".433" stop-color="#46c06f"/><stop offset=".506" stop-color="#60ca60"/><stop offset=".591" stop-color="#7fd34e"/><stop offset=".695" stop-color="#a0da39"/><stop offset=".835" stop-color="#c2df23"/><stop offset="1" stop-color="#dde318"/></linearGradient>
<linearGradient id="g93"><stop offset="0" stop-color="#2e6e8e"/><stop offset=".055" stop-color="#297b8e"/><stop offset=".104" stop-color="#24878e"/><stop offset=".152" stop-color="#1f948c"/><stop offset=".201" stop-color="#1fa188"/><stop offset=".256" stop-color="#27ad81"/><stop offset=".311" stop-color="#38b977"/><stop offset=".372" stop-color="#52c569"/><stop offset=".439" stop-color="#6ece58"/><stop offset=".518" stop-color="#90d743"/><stop offset=".622" stop-color="#b2dd2d"/><stop offset=".774" stop-color="#d5e21a"/><stop offset="1" stop-color="#efe51c"/></linearGradient>
<linearGradient id="g94"><stop offset="0" stop-color="#2b748e"/><stop offset=".043" stop-color="#26818e"/><stop offset=".085" stop-color="#228d8d"/><stop offset=".128" stop-color="#1f9a8a"/><stop offset=".171" stop-color="#21a685"/><stop offset=".213" stop-color="#2db27d"/><stop offset=".262" stop-color="#42be71"/><stop offset=".317" stop-color="#5ec962"/><stop offset=".378" stop-color="#7cd250"/><stop offset=".451" stop-color="#9dd93b"/><stop offset=".549" stop-color="#c0df25"/><stop offset=".713" stop-color="#e2e418"/><stop offset="1" stop-color="#f8e621"/></linearGradient>
<linearGradient id="g95"><stop offset="0" stop-color="#297b8e"/><stop offset=".037" stop-color="#23888e"/><stop offset=".073" stop-color="#1f958b"/><stop offset=".11" stop-color="#1fa187"/><stop offset=".146" stop-color="#28ae80"/><stop offset=".189" stop-color="#3bbb75"/><stop offset=".232" stop-color="#56c667"/><stop offset=".28" stop-color="#73d056"/><stop offset=".341" stop-color="#95d840"/><stop offset=".421" stop-color="#bade28"/><stop offset=".543" stop-color="#dde318"/><stop offset=".988" stop-color="#fbe723"/><stop offset="1" stop-color="#fde725"/></linearGradient>
<linearGradient id="g96"><stop offset="0" stop-color="#25838e"/><stop offset=".03" stop-color="#21918c"/><stop offset=".061" stop-color="#1e9d89"/><stop offset=".091" stop-color="#24aa83"/><stop offset=".128" stop-color="#35b779"/><stop offset=".165" stop-color="#4ec36b"/><stop offset=".207" stop-color="#6ccd5a"/><stop offset=".256" stop-color="#8ed645"/><stop offset=".317" stop-color="#b0dd2f"/><stop offset=".409" stop-color="#d5e21a"/><stop offset=".628" stop-color="#f6e620"/><stop offset="1" stop-color="#fde725"/></linearGradient>
<linearGradient id="g97"><stop offset="0" stop-color="#218e8d"/><stop offset=".024" stop-color="#1f9a8a"/><stop offset=".055" stop-color="#23a983"/><stop offset=".085" stop-color="#34b679"/><stop offset=".116" stop-color="#4cc26c"/><stop offset=".152" stop-color="#69cd5b"/><stop offset=".195" stop-color="#8ed645"/><stop offset=".244" stop-color="#b0dd2f"/><stop offset=".317" stop-color="#d2e21b"/><stop offset=".482" stop-color="#f4e61e"/><stop offset="1" stop-color="#fde725"/></linearGradient>
<linearGradient id="g98"><stop offset="0" stop-color="#1f9a8a"/><stop offset=".024" stop-color="#22a884"/><stop offset=".049" stop-color="#31b57b"/><stop offset=".073" stop-color="#48c16e"/><stop offset=".104" stop-color="#65cb5e"/><stop offset=".14" stop-color="#89d548"/><stop offset=".183" stop-color="#addc30"/><stop offset=".244" stop-color="#d0e11c"/><stop offset=".372" stop-color="#f1e51d"/><stop offset="1" stop-color="#fde725"/></linearGradient>
<linearGradient id="g99"><stop offset="0" stop-color="#1e9c89"/><stop offset=".024" stop-color="#25ab82"/><stop offset=".049" stop-color="#35b779"/><stop offset=".073" stop-color="#4ec36b"/><stop offset=".104" stop-color="#6ece58"/><stop offset=".14" stop-color="#93d741"/><stop offset=".183" stop-color="#b5de2b"/><stop offset=".25" stop-color="#d8e219"/><stop offset=".433" stop-color="#f8e621"/><stop offset="1" stop-color="#fde725"/></linearGradient>
<linearGradient id="g100"><stop offset="0" stop-color="#2f6c8e"/><stop offset=".122" stop-color="#2a788e"/><stop offset=".238" stop-color="#25858e"/><stop offset=".354" stop-color="#20928c"/><stop offset=".47" stop-color="#1f9e89"/><stop offset=".585" stop-color="#25ab82"/><stop offset=".707" stop-color="#34b679"/><stop offset=".835" stop-color="#4ac16d"/><stop offset=".982" stop-color="#65cb5e"/><stop offset="1" stop-color="#67cc5c"/></linearGradient>
<linearGradient id="g101"><stop offset="0" stop-color="#355e8d"/><stop offset=".134" stop-color="#2f6b8e"/><stop offset=".256" stop-color="#2a778e"/><stop offset=".378" stop-color="#25838e"/><stop offset=".494" stop-color="#21908d"/><stop offset=".61" stop-color="#1e9c89"/><stop offset=".732" stop-color="#23a983"/><stop offset=".854" stop-color="#31b57b"/><stop offset=".988" stop-color="#46c06f"/><stop offset="1" stop-color="#48c16e"/></linearGradient>
<linearGradient id="g102"><stop offset="0" stop-color="#3c508b"/><stop offset=".152" stop-color="#355e8d"/><stop offset=".293" stop-color="#2f6c8e"/><stop offset=".421" stop-color="#2a788e"/><stop offset=".543" stop-color="#25848e"/><stop offset=".665" stop-color="#21918c"/><stop offset=".787" stop-color="#1e9d89"/><stop offset=".909" stop-color="#23a983"/><stop offset="1" stop-color="#2cb17e"/></linearGradient>
<linearGradient id="g103"><stop offset="0" stop-color="#404588"/><stop offset=".177" stop-color="#3a538b"/><stop offset=".329" stop-color="#34618d"/><stop offset=".47" stop-color="#2e6e8e"/><stop offset=".604" stop-color="#297a8e"/><stop offset=".732" stop-color="#24868e"/><stop offset=".86" stop-color="#20928c"/><stop offset=".988" stop-color="#1fa088"/><stop offset="1" stop-color="#1fa188"/></linearGradient>
<linearGradient id="g104"><stop offset="0" stop-color="#443a83"/><stop offset=".207" stop-color="#3e4989"/><stop offset=".384" stop-color="#38588c"/><stop offset=".537" stop-color="#32658e"/><stop offset=".677" stop-color="#2c718e"/><stop offset=".811" stop-color="#277e8e"/><stop offset=".939" stop-color="#238a8d"/><stop offset="1" stop-color="#21908d"/></linearGradient>
<linearGradient id="g105"><stop offset="0" stop-color="#46307e"/><stop offset=".244" stop-color="#424086"/><stop offset=".445" stop-color="#3c4f8a"/><stop offset=".616" stop-color="#365d8d"/><stop offset=".768" stop-color="#306a8e"/><stop offset=".915" stop-color="#2a768e"/><stop offset="1" stop-color="#277e8e"/></linearGradient>
<linearGradient id="g106"><stop offset="0" stop-color="#482878"/><stop offset=".293" stop-color="#453882"/><stop offset=".518" stop-color="#3f4788"/><stop offset=".707" stop-color="#39558c"/><stop offset=".878" stop-color="#33638d"/><stop offset="1" stop-color="#2e6d8e"/></linearGradient>
<linearGradient id="g107"><stop offset="0" stop-color="#482071"/><stop offset=".36" stop-color="#46307e"/><stop offset=".622" stop-color="#424086"/><stop offset=".835" stop-color="#3c4f8a"/><stop offset="1" stop-color="#375b8d"/></linearGradient>
<linearGradient id="g108"><stop offset="0" stop-color="#481a6c"/><stop offset=".463" stop-color="#482979"/><stop offset=".78" stop-color="#443983"/><stop offset="1" stop-color="#3f4788"/></linearGradient>
<linearGradient id="g109"><stop offset="0" stop-color="#471164"/><stop offset=".646" stop-color="#482374"/><stop offset="1" stop-color="#46327e"/></linearGradient>
<linearGradient id="g110"><stop offset="0" stop-color="#460a5d"/><stop offset="1" stop-color="#481b6d"/></linearGradient>
<linearGradient id="g111"><stop offset="0" stop-color="#46085c"/><stop offset="1" stop-color="#481769"/></linearGradient>
<linearGradient id="g112"><stop offset="0" stop-color="#21918c"/><stop offset=".506" stop-color="#1e9c89"/><stop offset="1" stop-color="#22a884"/></linearGradient>
<linearGradient id="g113"><stop offset="0" stop-color="#21918c"/><stop offset=".28" stop-color="#1e9d89"/><stop offset=".567" stop-color="#23a983"/><stop offset=".866" stop-color="#31b57b"/><stop offset="1" stop-color="#38b977"/></linearGradient>
<linearGradient id="g114"><stop offset="0" stop-color="#20928c"/><stop offset=".189" stop-color="#1f9e89"/><stop offset=".384" stop-color="#24aa83"/><stop offset=".585" stop-color="#32b67a"/><stop offset=".805" stop-color="#48c16e"/><stop offset="1" stop-color="#5ec962"/></linearGradient>
<linearGradient id="g115"><stop offset="0" stop-color="#20928c"/><stop offset=".14" stop-color="#1fa088"/><stop offset=".28" stop-color="#25ac82"/><stop offset=".427" stop-color="#35b779"/><stop offset=".585" stop-color="#4cc26c"/><stop offset=".762" stop-color="#65cb5e"/><stop offset=".97" stop-color="#86d549"/><stop offset="1" stop-color="#89d548"/></linearGradient>
<linearGradient id="g116"><stop offset="0" stop-color="#1f948c"/><stop offset=".104" stop-color="#1fa188"/><stop offset=".207" stop-color="#26ad81"/><stop offset=".317" stop-color="#37b878"/><stop offset=".439" stop-color="#50c46a"/><stop offset=".573" stop-color="#6ccd5a"/><stop offset=".732" stop-color="#8bd646"/><stop offset=".933" stop-color="#addc30"/><stop offset="1" stop-color="#b8de29"/></linearGradient>
<linearGradient id="g117"><stop offset="0" stop-color="#1f968b"/><stop offset=".073" stop-color="#1fa287"/><stop offset=".152" stop-color="#29af7f"/><stop offset=".232" stop-color="#3aba76"/><stop offset=".323" stop-color="#54c568"/><stop offset=".421" stop-color="#70cf57"/><stop offset=".537" stop-color="#90d743"/><stop offset=".689" stop-color="#b2dd2d"/><stop offset=".915" stop-color="#d5e21a"/><stop offset="1" stop-color="#dde318"/></linearGradient>
<linearGradient id="g118"><stop offset="0" stop-color="#1f998a"/><stop offset=".055" stop-color="#21a585"/><stop offset=".11" stop-color="#2cb17e"/><stop offset=".171" stop-color="#3fbc73"/><stop offset=".238" stop-color="#5ac864"/><stop offset=".311" stop-color="#77d153"/><stop offset=".402" stop-color="#98d83e"/><stop offset=".524" stop-color="#bade28"/><stop offset=".713" stop-color="#dde318"/><stop offset="1" stop-color="#f4e61e"/></linearGradient>
<linearGradient id="g119"><stop offset="0" stop-color="#1e9c89"/><stop offset=".043" stop-color="#23a983"/><stop offset=".085" stop-color="#32b67a"/><stop offset=".134" stop-color="#4ac16d"/><stop offset=".189" stop-color="#67cc5c"/><stop offset=".25" stop-color="#89d548"/><stop offset=".323" stop-color="#a8db34"/><stop offset=".427" stop-color="#cae11f"/><stop offset=".628" stop-color="#ece51b"/><stop offset="1" stop-color="#fbe723"/></linearGradient>
<linearGradient id="g120"><stop offset="0" stop-color="#1fa188"/><stop offset=".03" stop-color="#27ad81"/><stop offset=".061" stop-color="#38b977"/><stop offset=".098" stop-color="#52c569"/><stop offset=".14" stop-color="#73d056"/><stop offset=".189" stop-color="#93d741"/><stop offset=".25" stop-color="#b5de2b"/><stop offset=".341" stop-color="#d8e219"/><stop offset=".598" stop-color="#f8e621"/><stop offset="1" stop-color="#fde725"/></linearGradient>
<linearGradient id="g121"><stop offset="0" stop-color="#22a785"/><stop offset=".024" stop-color="#31b57b"/><stop offset=".049" stop-color="#46c06f"/><stop offset=".079" stop-color="#65cb5e"/><stop offset=".116" stop-color="#89d548"/><stop offset=".159" stop-color="#addc30"/><stop offset=".22" stop-color="#d0e11c"/><stop offset=".348" stop-color="#f1e51d"/><stop offset="1" stop-color="#fde725"/></linearGradient>
<linearGradient id="g122"><stop offset="0" stop-color="#2ab07f"/><stop offset=".018" stop-color="#3fbc73"/><stop offset=".037" stop-color="#58c765"/><stop offset=".061" stop-color="#7ad151"/><stop offset=".091" stop-color="#a0da39"/><stop offset=".128" stop-color="#c2df23"/><stop offset=".195" stop-color="#e5e419"/><stop offset="1" stop-color="#fde725"/></linearGradient>
<linearGradient id="g123"><stop offset="0" stop-color="#2fb47c"/><stop offset=".018" stop-color="#4ac16d"/><stop offset=".037" stop-color="#65cb5e"/><stop offset=".061" stop-color="#8bd646"/><stop offset=".091" stop-color="#b2dd2d"/><stop offset=".134" stop-color="#d5e21a"/><stop offset=".238" stop-color="#f6e620"/><stop offset="1" stop-color="#fde725"/></linearGradient>
<linearGradient id="g124"><stop offset="0" stop-color="#2c728e"/><stop offset=".11" stop-color="#277f8e"/><stop offset=".22" stop-color="#228b8d"/><stop offset=".329" stop-color="#1f988b"/><stop offset=".439" stop-color="#20a486"/><stop offset=".555" stop-color="#2ab07f"/><stop offset=".677" stop-color="#3dbc74"/><stop offset=".811" stop-color="#58c765"/><stop offset=".963" stop-color="#75d054"/><stop offset="1" stop-color="#7cd250"/></linearGradient>
<linearGradient id="g125"><stop offset="0" stop-color="#2c728e"/><stop offset=".091" stop-color="#27808e"/><stop offset=".177" stop-color="#228c8d"/><stop offset=".262" stop-color="#1f988b"/><stop offset=".348" stop-color="#20a486"/><stop offset=".439" stop-color="#2ab07f"/><stop offset=".537" stop-color="#3fbc73"/><stop offset=".64" stop-color="#58c765"/><stop offset=".756" stop-color="#75d054"/><stop offset=".896" stop-color="#95d840"/><stop offset="1" stop-color="#a8db34"/></linearGradient>
<linearGradient id="g126"><stop offset="0" stop-color="#2c728e"/><stop offset=".073" stop-color="#27808e"/><stop offset=".14" stop-color="#228c8d"/><stop offset=".207" stop-color="#1f988b"/><stop offset=".274" stop-color="#20a486"/><stop offset=".348" stop-color="#2ab07f"/><stop offset=".427" stop-color="#3fbc73"/><stop offset=".512" stop-color="#5ac864"/><stop offset=".61" stop-color="#77d153"/><stop offset=".726" stop-color="#98d83e"/><stop offset=".878" stop-color="#bddf26"/><stop offset="1" stop-color="#d0e11c"/></linearGradient>
<linearGradient id="g127"><stop offset="0" stop-color="#2c728e"/><stop offset=".055" stop-color="#277f8e"/><stop offset=".11" stop-color="#228c8d"/><stop offset=".165" stop-color="#1f988b"/><stop offset=".22" stop-color="#20a486"/><stop offset=".274" stop-color="#2ab07f"/><stop offset=".335" stop-color="#3fbc73"/><stop offset=".402" stop-color="#58c765"/><stop offset=".476" stop-color="#75d054"/><stop offset=".567" stop-color="#95d840"/><stop offset=".683" stop-color="#b8de29"/><stop offset=".866" stop-color="#dae319"/><stop offset="1" stop-color="#eae51a"/></linearGradient>
<linearGradient id="g128"><stop offset="0" stop-color="#2c728e"/><stop offset=".043" stop-color="#277f8e"/><stop offset=".085" stop-color="#228b8d"/><stop offset=".128" stop-color="#1f978b"/><stop offset=".171" stop-color="#20a486"/><stop offset=".22" stop-color="#2cb17e"/><stop offset=".268" stop-color="#40bd72"/><stop offset=".323" stop-color="#5ac864"/><stop offset=".384" stop-color="#7ad151"/><stop offset=".457" stop-color="#9bd93c"/><stop offset=".555" stop-color="#bddf26"/><stop offset=".713" stop-color="#dfe318"/><stop offset="1" stop-color="#f6e620"/></linearGradient>
<linearGradient id="g129"><stop offset="0" stop-color="#2c728e"/><stop offset=".037" stop-color="#27808e"/><stop offset=".073" stop-color="#228d8d"/><stop offset=".11" stop-color="#1f9a8a"/><stop offset=".146" stop-color="#22a785"/><stop offset=".183" stop-color="#2eb37c"/><stop offset=".226" stop-color="#46c06f"/><stop offset=".268" stop-color="#60ca60"/><stop offset=".317" stop-color="#7fd34e"/><stop offset=".378" stop-color="#a0da39"/><stop offset=".463" stop-color="#c2df23"/><stop offset=".61" stop-color="#e5e419"/><stop offset="1" stop-color="#fde725"/></linearGradient>
<linearGradient id="g130"><stop offset="0" stop-color="#2c728e"/><stop offset=".037" stop-color="#26818e"/><stop offset=".067" stop-color="#228d8d"/><stop offset=".098" stop-color="#1f998a"/><stop offset=".128" stop-color="#21a585"/><stop offset=".165" stop-color="#2eb37c"/><stop offset=".201" stop-color="#44bf70"/><stop offset=".244" stop-color="#60ca60"/><stop offset=".293" stop-color="#81d34d"/><stop offset=".354" stop-color="#a5db36"/><stop offset=".433" stop-color="#c8e020"/><stop offset=".579" stop-color="#eae51a"/><stop offset="1" stop-color="#fde725"/></linearGradient>
<linearGradient id="lg" x1="0" y1="0" x2="0" y2="1"><stop offset="0%" stop-color="#440154"/><stop offset="5%" stop-color="#471365"/><stop offset="10%" stop-color="#482475"/><stop offset="15%" stop-color="#463480"/><stop offset="20%" stop-color="#414487"/><stop offset="25%" stop-color="#3b528b"/><stop offset="30%" stop-color="#355f8d"/><stop offset="35%" stop-color="#2f6c8e"/><stop offset="40%" stop-color="#2a788e"/><stop offset="45%" stop-color="#25848e"/><stop offset="50%" stop-color="#21918c"/><stop offset="55%" stop-color="#1e9c89"/><stop offset="60%" stop-color="#22a884"/><stop offset="65%" stop-color="#2fb47c"/><stop offset="70%" stop-color="#44bf70"/><stop offset="75%" stop-color="#5ec962"/><stop offset="80%" stop-color="#7ad151"/><stop offset="85%" stop-color="#9bd93c"/><stop offset="90%" stop-color="#bddf26"/><stop offset="95%" stop-color="#dfe318"/><stop offset="100%" stop-color="#fde725"/></linearGradient>
</defs>
<rect width="2044" height="2029" fill="#fff"/>
<g shape-rendering="crispEdges">
<rect x="145" y="231" width="329" height="41" fill="url(#g1)"/><rect x="145" y="231" width="329" height="41" fill="url(#g2)" mask="url(#vm)"/><rect x="145" y="272" width="329" height="49" fill="url(#g2)"/><rect x="145" y="272" width="329" height="49" fill="url(#g3)" mask="url(#vm)"/><rect x="145" y="321" width="329" height="58" fill="url(#g3)"/><rect x="145" y="321" width="329" height="58" fill="url(#g4)" mask="url(#vm)"/><rect x="145" y="379" width="329" height="69" fill="url(#g4)"/><rect x="145" y="379" width="329" height="69" fill="url(#g5)" mask="url(#vm)"/><rect x="145" y="448" width="329" height="80" fill="url(#g5)"/><rect x="145" y="448" width="329" height="80" fill="url(#g6)" mask="url(#vm)"/><rect x="145" y="528" width="329" height="32" fill="url(#g6)"/><rect x="145" y="528" width="329" height="32" fill="url(#g7)" mask="url(#vm)"/>
<rect x="548" y="231" width="329" height="33" fill="url(#g8)"/><rect x="548" y="231" width="329" height="33" fill="url(#g9)" mask="url(#vm)"/><rect x="548" y="264" width="329" height="36" fill="url(#g9)"/><rect x="548" y="264" width="329" height="36" fill="url(#g10)" mask="url(#vm)"/><rect x="548" y="300" width="329" height="43" fill="url(#g10)"/><rect x="548" y="300" width="329" height="43" fill="url(#g11)" mask="url(#vm)"/><rect x="548" y="343" width="329" height="52" fill="url(#g11)"/><rect x="548" y="343" width="329" height="52" fill="url(#g12)" mask="url(#vm)"/><rect x="548" y="395" width="329" height="63" fill="url(#g12)"/><rect x="548" y="395" width="329" height="63" fill="url(#g13)" mask="url(#vm)"/><rect x="548" y="458" width="329" height="77" fill="url(#g13)"/><rect x="548" y="458" width="329" height="77" fill="url(#g14)" mask="url(#vm)"/><rect x="548" y="535" width="329" height="25" fill="url(#g14)"/><rect x="548" y="535" width="329" height="25" fill="url(#g15)" mask="url(#vm)"/>
<rect x="145" y="621" width="329" height="37" fill="url(#g16)"/><rect x="145" y="621" width="329" height="37" fill="url(#g17)" mask="url(#vm)"/><rect x="145" y="658" width="329" height="56" fill="url(#g17)"/><rect x="145" y="658" width="329" height="56" fill="url(#g18)" mask="url(#vm)"/><rect x="145" y="714" width="329" height="80" fill="url(#g18)"/><rect x="145" y="714" width="329" height="80" fill="url(#g19)" mask="url(#vm)"/><rect x="145" y="794" width="329" height="80" fill="url(#g19)"/><rect x="145" y="794" width="329" height="80" fill="url(#g20)" mask="url(#vm)"/><rect x="145" y="874" width="329" height="76" fill="url(#g20)"/><rect x="145" y="874" width="329" height="76" fill="url(#g21)" mask="url(#vm)"/>
<rect x="548" y="621" width="329" height="24" fill="url(#g22)"/><rect x="548" y="621" width="329" height="24" fill="url(#g23)" mask="url(#vm)"/><rect x="548" y="645" width="329" height="25" fill="url(#g23)"/><rect x="548" y="645" width="329" height="25" fill="url(#g24)" mask="url(#vm)"/><rect x="548" y="670" width="329" height="27" fill="url(#g24)"/><rect x="548" y="670" width="329" height="27" fill="url(#g25)" mask="url(#vm)"/><rect x="548" y="697" width="329" height="31" fill="url(#g25)"/><rect x="548" y="697" width="329" height="31" fill="url(#g26)" mask="url(#vm)"/><rect x="548" y="728" width="329" height="39" fill="url(#g26)"/><rect x="548" y="728" width="329" height="39" fill="url(#g27)" mask="url(#vm)"/><rect x="548" y="767" width="329" height="48" fill="url(#g27)"/><rect x="548" y="767" width="329" height="48" fill="url(#g28)" mask="url(#vm)"/><rect x="548" y="815" width="329" height="60" fill="url(#g28)"/><rect x="548" y="815" width="329" height="60" fill="url(#g29)" mask="url(#vm)"/><rect x="548" y="875" width="329" height="75" fill="url(#g29)"/><rect x="548" y="875" width="329" height="75" fill="url(#g30)" mask="url(#vm)"/>
<rect x="1030" y="231" width="329" height="61" fill="url(#g31)"/><rect x="1030" y="231" width="329" height="61" fill="url(#g32)" mask="url(#vm)"/><rect x="1030" y="292" width="329" height="53" fill="url(#g32)"/><rect x="1030" y="292" width="329" height="53" fill="url(#g33)" mask="url(#vm)"/><rect x="1030" y="345" width="329" height="48" fill="url(#g33)"/><rect x="1030" y="345" width="329" height="48" fill="url(#g34)" mask="url(#vm)"/><rect x="1030" y="393" width="329" height="46" fill="url(#g34)"/><rect x="1030" y="393" width="329" height="46" fill="url(#g35)" mask="url(#vm)"/><rect x="1030" y="439" width="329" height="46" fill="url(#g35)"/><rect x="1030" y="439" width="329" height="46" fill="url(#g36)" mask="url(#vm)"/><rect x="1030" y="485" width="329" height="48" fill="url(#g36)"/><rect x="1030" y="485" width="329" height="48" fill="url(#g37)" mask="url(#vm)"/><rect x="1030" y="533" width="329" height="27" fill="url(#g37)"/><rect x="1030" y="533" width="329" height="27" fill="url(#g38)" mask="url(#vm)"/>
<rect x="1432" y="231" width="329" height="62" fill="url(#g39)"/><rect x="1432" y="231" width="329" height="62" fill="url(#g40)" mask="url(#vm)"/><rect x="1432" y="293" width="329" height="75" fill="url(#g40)"/><rect x="1432" y="293" width="329" height="75" fill="url(#g41)" mask="url(#vm)"/><rect x="1432" y="368" width="329" height="80" fill="url(#g41)"/><rect x="1432" y="368" width="329" height="80" fill="url(#g42)" mask="url(#vm)"/><rect x="1432" y="448" width="329" height="80" fill="url(#g42)"/><rect x="1432" y="448" width="329" height="80" fill="url(#g43)" mask="url(#vm)"/><rect x="1432" y="528" width="329" height="32" fill="url(#g43)"/><rect x="1432" y="528" width="329" height="32" fill="url(#g44)" mask="url(#vm)"/>
<rect x="1034" y="621" width="329" height="80" fill="url(#g45)"/><rect x="1034" y="621" width="329" height="80" fill="url(#g46)" mask="url(#vm)"/><rect x="1034" y="701" width="329" height="80" fill="url(#g46)"/><rect x="1034" y="701" width="329" height="80" fill="url(#g47)" mask="url(#vm)"/><rect x="1034" y="781" width="329" height="80" fill="url(#g47)"/><rect x="1034" y="781" width="329" height="80" fill="url(#g48)" mask="url(#vm)"/><rect x="1034" y="861" width="329" height="80" fill="url(#g48)"/><rect x="1034" y="861" width="329" height="80" fill="url(#g49)" mask="url(#vm)"/><rect x="1034" y="941" width="329" height="9" fill="url(#g49)"/><rect x="1034" y="941" width="329" height="9" fill="url(#g50)" mask="url(#vm)"/>
<rect x="1432" y="621" width="329" height="12" fill="url(#g51)"/><rect x="1432" y="621" width="329" height="12" fill="url(#g52)" mask="url(#vm)"/><rect x="1432" y="633" width="329" height="11" fill="url(#g52)"/><rect x="1432" y="633" width="329" height="11" fill="url(#g53)" mask="url(#vm)"/><rect x="1432" y="644" width="329" height="11" fill="url(#g53)"/><rect x="1432" y="644" width="329" height="11" fill="url(#g54)" mask="url(#vm)"/><rect x="1432" y="655" width="329" height="11" fill="url(#g54)"/><rect x="1432" y="655" width="329" height="11" fill="url(#g55)" mask="url(#vm)"/><rect x="1432" y="666" width="329" height="12" fill="url(#g55)"/><rect x="1432" y="666" width="329" height="12" fill="url(#g56)" mask="url(#vm)"/><rect x="1432" y="678" width="329" height="13" fill="url(#g56)"/><rect x="1432" y="678" width="329" height="13" fill="url(#g57)" mask="url(#vm)"/><rect x="1432" y="691" width="329" height="16" fill="url(#g57)"/><rect x="1432" y="691" width="329" height="16" fill="url(#g58)" mask="url(#vm)"/><rect x="1432" y="707" width="329" height="21" fill="url(#g58)"/><rect x="1432" y="707" width="329" height="21" fill="url(#g59)" mask="url(#vm)"/><rect x="1432" y="728" width="329" height="27" fill="url(#g59)"/><rect x="1432" y="728" width="329" height="27" fill="url(#g60)" mask="url(#vm)"/><rect x="1432" y="755" width="329" height="34" fill="url(#g60)"/><rect x="1432" y="755" width="329" height="34" fill="url(#g61)" mask="url(#vm)"/><rect x="1432" y="789" width="329" height="44" fill="url(#g61)"/><rect x="1432" y="789" width="329" height="44" fill="url(#g62)" mask="url(#vm)"/><rect x="1432" y="833" width="329" height="56" fill="url(#g62)"/><rect x="1432" y="833" width="329" height="56" fill="url(#g63)" mask="url(#vm)"/><rect x="1432" y="889" width="329" height="61" fill="url(#g63)"/><rect x="1432" y="889" width="329" height="61" fill="url(#g64)" mask="url(#vm)"/>
<rect x="145" y="1191" width="329" height="80" fill="url(#g65)"/><rect x="145" y="1191" width="329" height="80" fill="url(#g66)" mask="url(#vm)"/><rect x="145" y="1271" width="329" height="80" fill="url(#g66)"/><rect x="145" y="1271" width="329" height="80" fill="url(#g67)" mask="url(#vm)"/><rect x="145" y="1351" width="329" height="80" fill="url(#g67)"/><rect x="145" y="1351" width="329" height="80" fill="url(#g68)" mask="url(#vm)"/><rect x="145" y="1431" width="329" height="80" fill="url(#g68)"/><rect x="145" y="1431" width="329" height="80" fill="url(#g69)" mask="url(#vm)"/><rect x="145" y="1511" width="329" height="9" fill="url(#g69)"/><rect x="145" y="1511" width="329" height="9" fill="url(#g70)" mask="url(#vm)"/>
<rect x="548" y="1191" width="329" height="80" fill="url(#g71)"/><rect x="548" y="1191" width="329" height="80" fill="url(#g72)" mask="url(#vm)"/><rect x="548" y="1271" width="329" height="80" fill="url(#g72)"/><rect x="548" y="1271" width="329" height="80" fill="url(#g73)" mask="url(#vm)"/><rect x="548" y="1351" width="329" height="80" fill="url(#g73)"/><rect x="548" y="1351" width="329" height="80" fill="url(#g74)" mask="url(#vm)"/><rect x="548" y="1431" width="329" height="80" fill="url(#g74)"/><rect x="548" y="1431" width="329" height="80" fill="url(#g75)" mask="url(#vm)"/><rect x="548" y="1511" width="329" height="9" fill="url(#g75)"/><rect x="548" y="1511" width="329" height="9" fill="url(#g76)" mask="url(#vm)"/>
<rect x="145" y="1581" width="329" height="80" fill="url(#g77)"/><rect x="145" y="1581" width="329" height="80" fill="url(#g78)" mask="url(#vm)"/><rect x="145" y="1661" width="329" height="80" fill="url(#g78)"/><rect x="145" y="1661" width="329" height="80" fill="url(#g79)" mask="url(#vm)"/><rect x="145" y="1741" width="329" height="80" fill="url(#g79)"/><rect x="145" y="1741" width="329" height="80" fill="url(#g80)" mask="url(#vm)"/><rect x="145" y="1821" width="329" height="80" fill="url(#g80)"/><rect x="145" y="1821" width="329" height="80" fill="url(#g81)" mask="url(#vm)"/><rect x="145" y="1901" width="329" height="9" fill="url(#g81)"/><rect x="145" y="1901" width="329" height="9" fill="url(#g82)" mask="url(#vm)"/>
<rect x="548" y="1581" width="329" height="80" fill="url(#g83)"/><rect x="548" y="1581" width="329" height="80" fill="url(#g84)" mask="url(#vm)"/><rect x="548" y="1661" width="329" height="80" fill="url(#g84)"/><rect x="548" y="1661" width="329" height="80" fill="url(#g85)" mask="url(#vm)"/><rect x="548" y="1741" width="329" height="80" fill="url(#g85)"/><rect x="548" y="1741" width="329" height="80" fill="url(#g86)" mask="url(#vm)"/><rect x="548" y="1821" width="329" height="80" fill="url(#g86)"/><rect x="548" y="1821" width="329" height="80" fill="url(#g87)" mask="url(#vm)"/><rect x="548" y="1901" width="329" height="9" fill="url(#g87)"/><rect x="548" y="1901" width="329" height="9" fill="url(#g88)" mask="url(#vm)"/>
<rect x="1030" y="1194" width="329" height="16" fill="url(#g89)"/><rect x="1030" y="1194" width="329" height="16" fill="url(#g90)" mask="url(#vm)"/><rect x="1030" y="1210" width="329" height="19" fill="url(#g90)"/><rect x="1030" y="1210" width="329" height="19" fill="url(#g91)" mask="url(#vm)"/><rect x="1030" y="1229" width="329" height="23" fill="url(#g91)"/><rect x="1030" y="1229" width="329" height="23" fill="url(#g92)" mask="url(#vm)"/><rect x="1030" y="1252" width="329" height="27" fill="url(#g92)"/><rect x="1030" y="1252" width="329" height="27" fill="url(#g93)" mask="url(#vm)"/><rect x="1030" y="1279" width="329" height="32" fill="url(#g93)"/><rect x="1030" y="1279" width="329" height="32" fill="url(#g94)" mask="url(#vm)"/><rect x="1030" y="1311" width="329" height="38" fill="url(#g94)"/><rect x="1030" y="1311" width="329" height="38" fill="url(#g95)" mask="url(#vm)"/><rect x="1030" y="1349" width="329" height="45" fill="url(#g95)"/><rect x="1030" y="1349" width="329" height="45" fill="url(#g96)" mask="url(#vm)"/><rect x="1030" y="1394" width="329" height="53" fill="url(#g96)"/><rect x="1030" y="1394" width="329" height="53" fill="url(#g97)" mask="url(#vm)"/><rect x="1030" y="1447" width="329" height="63" fill="url(#g97)"/><rect x="1030" y="1447" width="329" height="63" fill="url(#g98)" mask="url(#vm)"/><rect x="1030" y="1510" width="329" height="13" fill="url(#g98)"/><rect x="1030" y="1510" width="329" height="13" fill="url(#g99)" mask="url(#vm)"/>
<rect x="1432" y="1194" width="329" height="26" fill="url(#g100)"/><rect x="1432" y="1194" width="329" height="26" fill="url(#g101)" mask="url(#vm)"/><rect x="1432" y="1220" width="329" height="26" fill="url(#g101)"/><rect x="1432" y="1220" width="329" height="26" fill="url(#g102)" mask="url(#vm)"/><rect x="1432" y="1246" width="329" height="25" fill="url(#g102)"/><rect x="1432" y="1246" width="329" height="25" fill="url(#g103)" mask="url(#vm)"/><rect x="1432" y="1271" width="329" height="24" fill="url(#g103)"/><rect x="1432" y="1271" width="329" height="24" fill="url(#g104)" mask="url(#vm)"/><rect x="1432" y="1295" width="329" height="24" fill="url(#g104)"/><rect x="1432" y="1295" width="329" height="24" fill="url(#g105)" mask="url(#vm)"/><rect x="1432" y="1319" width="329" height="25" fill="url(#g105)"/><rect x="1432" y="1319" width="329" height="25" fill="url(#g106)" mask="url(#vm)"/><rect x="1432" y="1344" width="329" height="27" fill="url(#g106)"/><rect x="1432" y="1344" width="329" height="27" fill="url(#g107)" mask="url(#vm)"/><rect x="1432" y="1371" width="329" height="32" fill="url(#g107)"/><rect x="1432" y="1371" width="329" height="32" fill="url(#g108)" mask="url(#vm)"/><rect x="1432" y="1403" width="329" height="41" fill="url(#g108)"/><rect x="1432" y="1403" width="329" height="41" fill="url(#g109)" mask="url(#vm)"/><rect x="1432" y="1444" width="329" height="64" fill="url(#g109)"/><rect x="1432" y="1444" width="329" height="64" fill="url(#g110)" mask="url(#vm)"/><rect x="1432" y="1508" width="329" height="15" fill="url(#g110)"/><rect x="1432" y="1508" width="329" height="15" fill="url(#g111)" mask="url(#vm)"/>
<rect x="1032" y="1581" width="329" height="7" fill="url(#g112)"/><rect x="1032" y="1581" width="329" height="7" fill="url(#g113)" mask="url(#vm)"/><rect x="1032" y="1588" width="329" height="8" fill="url(#g113)"/><rect x="1032" y="1588" width="329" height="8" fill="url(#g114)" mask="url(#vm)"/><rect x="1032" y="1596" width="329" height="9" fill="url(#g114)"/><rect x="1032" y="1596" width="329" height="9" fill="url(#g115)" mask="url(#vm)"/><rect x="1032" y="1605" width="329" height="12" fill="url(#g115)"/><rect x="1032" y="1605" width="329" height="12" fill="url(#g116)" mask="url(#vm)"/><rect x="1032" y="1617" width="329" height="17" fill="url(#g116)"/><rect x="1032" y="1617" width="329" height="17" fill="url(#g117)" mask="url(#vm)"/><rect x="1032" y="1634" width="329" height="23" fill="url(#g117)"/><rect x="1032" y="1634" width="329" height="23" fill="url(#g118)" mask="url(#vm)"/><rect x="1032" y="1657" width="329" height="31" fill="url(#g118)"/><rect x="1032" y="1657" width="329" height="31" fill="url(#g119)" mask="url(#vm)"/><rect x="1032" y="1688" width="329" height="43" fill="url(#g119)"/><rect x="1032" y="1688" width="329" height="43" fill="url(#g120)" mask="url(#vm)"/><rect x="1032" y="1731" width="329" height="59" fill="url(#g120)"/><rect x="1032" y="1731" width="329" height="59" fill="url(#g121)" mask="url(#vm)"/><rect x="1032" y="1790" width="329" height="80" fill="url(#g121)"/><rect x="1032" y="1790" width="329" height="80" fill="url(#g122)" mask="url(#vm)"/><rect x="1032" y="1870" width="329" height="40" fill="url(#g122)"/><rect x="1032" y="1870" width="329" height="40" fill="url(#g123)" mask="url(#vm)"/>
<rect x="1432" y="1581" width="329" height="35" fill="url(#g124)"/><rect x="1432" y="1581" width="329" height="35" fill="url(#g125)" mask="url(#vm)"/><rect x="1432" y="1616" width="329" height="44" fill="url(#g125)"/><rect x="1432" y="1616" width="329" height="44" fill="url(#g126)" mask="url(#vm)"/><rect x="1432" y="1660" width="329" height="55" fill="url(#g126)"/><rect x="1432" y="1660" width="329" height="55" fill="url(#g127)" mask="url(#vm)"/><rect x="1432" y="1715" width="329" height="70" fill="url(#g127)"/><rect x="1432" y="1715" width="329" height="70" fill="url(#g128)" mask="url(#vm)"/><rect x="1432" y="1785" width="329" height="80" fill="url(#g128)"/><rect x="1432" y="1785" width="329" height="80" fill="url(#g129)" mask="url(#vm)"/><rect x="1432" y="1865" width="329" height="45" fill="url(#g129)"/><rect x="1432" y="1865" width="329" height="45" fill="url(#g130)" mask="url(#vm)"/>
</g>
<g>
<path d="M127.3 214V577.9H492" fill="none" stroke="#000" stroke-width="4.6"/>
<rect x="110.5" y="228.1" width="15.5" height="4.5"/>
<text x="106.9" y="244.2" font-size="38.3" text-anchor="end">100</text>
<rect x="110.5" y="311" width="15.5" height="4.5"/>
<text x="106.9" y="327.1" font-size="38.3" text-anchor="end">75</text>
<rect x="110.5" y="393.9" width="15.5" height="4.5"/>
<text x="106.9" y="410" font-size="38.3" text-anchor="end">50</text>
<rect x="110.5" y="476.8" width="15.5" height="4.5"/>
<text x="106.9" y="492.9" font-size="38.3" text-anchor="end">25</text>
<rect x="110.5" y="558.8" width="15.5" height="4.5"/>
<text x="106.9" y="574.9" font-size="38.3" text-anchor="end">1</text>
<rect x="141.2" y="579.2" width="4.5" height="15.5"/>
<rect x="224.2" y="579.2" width="4.5" height="15.5"/>
<rect x="307.2" y="579.2" width="4.5" height="15.5"/>
<rect x="390.2" y="579.2" width="4.5" height="15.5"/>
<rect x="473.2" y="579.2" width="4.5" height="15.5"/>
<text font-size="37.1" text-anchor="middle" transform="translate(37.5 395.3) scale(1.05 1) rotate(-90)">% Forest condition</text>
<text x="309.6" y="149.6" font-size="41.9" text-anchor="middle">Threatened</text>
<text x="309.6" y="198" font-size="41.9" text-anchor="middle">status</text>
<path d="M530.4 214V577.9H895.1" fill="none" stroke="#000" stroke-width="4.6"/>
<rect x="513.6" y="228.1" width="15.5" height="4.5"/>
<rect x="513.6" y="311" width="15.5" height="4.5"/>
<rect x="513.6" y="393.9" width="15.5" height="4.5"/>
<rect x="513.6" y="476.8" width="15.5" height="4.5"/>
<rect x="513.6" y="558.8" width="15.5" height="4.5"/>
<rect x="544.4" y="579.2" width="4.5" height="15.5"/>
<rect x="627.4" y="579.2" width="4.5" height="15.5"/>
<rect x="710.4" y="579.2" width="4.5" height="15.5"/>
<rect x="793.4" y="579.2" width="4.5" height="15.5"/>
<rect x="876.4" y="579.2" width="4.5" height="15.5"/>
<text x="712.7" y="150.5" font-size="41.9" text-anchor="middle">Declining</text>
<text x="712.7" y="198.9" font-size="41.9" text-anchor="middle">population</text>
<path d="M127.3 603.9V967.8H492" fill="none" stroke="#000" stroke-width="4.6"/>
<rect x="110.5" y="618" width="15.5" height="4.5"/>
<text x="106.9" y="634.1" font-size="38.3" text-anchor="end">100</text>
<rect x="110.5" y="700.9" width="15.5" height="4.5"/>
<text x="106.9" y="717" font-size="38.3" text-anchor="end">75</text>
<rect x="110.5" y="783.8" width="15.5" height="4.5"/>
<text x="106.9" y="799.9" font-size="38.3" text-anchor="end">50</text>
<rect x="110.5" y="866.7" width="15.5" height="4.5"/>
<text x="106.9" y="882.8" font-size="38.3" text-anchor="end">25</text>
<rect x="110.5" y="948.7" width="15.5" height="4.5"/>
<text x="106.9" y="964.8" font-size="38.3" text-anchor="end">1</text>
<rect x="141.2" y="969.1" width="4.5" height="15.5"/>
<rect x="224.2" y="969.1" width="4.5" height="15.5"/>
<rect x="307.2" y="969.1" width="4.5" height="15.5"/>
<rect x="390.2" y="969.1" width="4.5" height="15.5"/>
<rect x="473.2" y="969.1" width="4.5" height="15.5"/>
<text font-size="37.1" text-anchor="middle" transform="translate(37.5 785.2) scale(1.05 1) rotate(-90)">% Forest condition</text>
<path d="M530.4 603.9V967.8H895.1" fill="none" stroke="#000" stroke-width="4.6"/>
<rect x="513.6" y="618" width="15.5" height="4.5"/>
<rect x="513.6" y="700.9" width="15.5" height="4.5"/>
<rect x="513.6" y="783.8" width="15.5" height="4.5"/>
<rect x="513.6" y="866.7" width="15.5" height="4.5"/>
<rect x="513.6" y="948.7" width="15.5" height="4.5"/>
<rect x="544.4" y="969.1" width="4.5" height="15.5"/>
<rect x="627.4" y="969.1" width="4.5" height="15.5"/>
<rect x="710.4" y="969.1" width="4.5" height="15.5"/>
<rect x="793.4" y="969.1" width="4.5" height="15.5"/>
<rect x="876.4" y="969.1" width="4.5" height="15.5"/>
<path d="M1011.9 214V577.9H1376.6" fill="none" stroke="#000" stroke-width="4.6"/>
<rect x="995.1" y="228.1" width="15.5" height="4.5"/>
<rect x="995.1" y="311" width="15.5" height="4.5"/>
<rect x="995.1" y="393.9" width="15.5" height="4.5"/>
<rect x="995.1" y="476.8" width="15.5" height="4.5"/>
<rect x="995.1" y="558.8" width="15.5" height="4.5"/>
<rect x="1025.9" y="579.2" width="4.5" height="15.5"/>
<rect x="1108.9" y="579.2" width="4.5" height="15.5"/>
<rect x="1191.9" y="579.2" width="4.5" height="15.5"/>
<rect x="1274.9" y="579.2" width="4.5" height="15.5"/>
<rect x="1357.9" y="579.2" width="4.5" height="15.5"/>
<text x="1194.2" y="151.2" font-size="41.5" text-anchor="middle">Threatened</text>
<text x="1194.2" y="199.6" font-size="41.5" text-anchor="middle">status</text>
<path d="M1414.2 214V577.9H1778.9" fill="none" stroke="#000" stroke-width="4.6"/>
<rect x="1397.4" y="228.1" width="15.5" height="4.5"/>
<rect x="1397.4" y="311" width="15.5" height="4.5"/>
<rect x="1397.4" y="393.9" width="15.5" height="4.5"/>
<rect x="1397.4" y="476.8" width="15.5" height="4.5"/>
<rect x="1397.4" y="558.8" width="15.5" height="4.5"/>
<rect x="1428.2" y="579.2" width="4.5" height="15.5"/>
<rect x="1511.2" y="579.2" width="4.5" height="15.5"/>
<rect x="1594.2" y="579.2" width="4.5" height="15.5"/>
<rect x="1677.2" y="579.2" width="4.5" height="15.5"/>
<rect x="1760.2" y="579.2" width="4.5" height="15.5"/>
<text x="1596.5" y="151.2" font-size="41.6" text-anchor="middle">Declining</text>
<text x="1596.5" y="199.6" font-size="41.6" text-anchor="middle">population</text>
<text font-size="40.7" text-anchor="middle" transform="translate(1807 396.1) scale(1.05 1) rotate(90)">Obligate</text>
<path d="M1016 604.2V968.1H1380.7" fill="none" stroke="#000" stroke-width="4.6"/>
<rect x="999.2" y="618.2" width="15.5" height="4.5"/>
<rect x="999.2" y="701.1" width="15.5" height="4.5"/>
<rect x="999.2" y="784" width="15.5" height="4.5"/>
<rect x="999.2" y="867" width="15.5" height="4.5"/>
<rect x="999.2" y="949" width="15.5" height="4.5"/>
<rect x="1030" y="969.4" width="4.5" height="15.5"/>
<rect x="1113" y="969.4" width="4.5" height="15.5"/>
<rect x="1196" y="969.4" width="4.5" height="15.5"/>
<rect x="1279" y="969.4" width="4.5" height="15.5"/>
<rect x="1362" y="969.4" width="4.5" height="15.5"/>
<path d="M1414.2 604.2V968.1H1778.9" fill="none" stroke="#000" stroke-width="4.6"/>
<rect x="1397.4" y="618.2" width="15.5" height="4.5"/>
<rect x="1397.4" y="701.1" width="15.5" height="4.5"/>
<rect x="1397.4" y="784" width="15.5" height="4.5"/>
<rect x="1397.4" y="867" width="15.5" height="4.5"/>
<rect x="1397.4" y="949" width="15.5" height="4.5"/>
<rect x="1428.2" y="969.4" width="4.5" height="15.5"/>
<rect x="1511.2" y="969.4" width="4.5" height="15.5"/>
<rect x="1594.2" y="969.4" width="4.5" height="15.5"/>
<rect x="1677.2" y="969.4" width="4.5" height="15.5"/>
<rect x="1760.2" y="969.4" width="4.5" height="15.5"/>
<text font-size="42.0" text-anchor="middle" transform="translate(1802.6 782.6) scale(1.0 1) rotate(90)">Associated</text>
<path d="M127.4 1173.9V1537.8H492.1" fill="none" stroke="#000" stroke-width="4.6"/>
<rect x="110.6" y="1188" width="15.5" height="4.5"/>
<text x="107" y="1204.1" font-size="38.3" text-anchor="end">100</text>
<rect x="110.6" y="1270.9" width="15.5" height="4.5"/>
<text x="107" y="1287" font-size="38.3" text-anchor="end">75</text>
<rect x="110.6" y="1353.8" width="15.5" height="4.5"/>
<text x="107" y="1369.9" font-size="38.3" text-anchor="end">50</text>
<rect x="110.6" y="1436.7" width="15.5" height="4.5"/>
<text x="107" y="1452.8" font-size="38.3" text-anchor="end">25</text>
<rect x="110.6" y="1518.7" width="15.5" height="4.5"/>
<text x="107" y="1534.8" font-size="38.3" text-anchor="end">1</text>
<rect x="141.3" y="1539.1" width="4.5" height="15.5"/>
<rect x="224.3" y="1539.1" width="4.5" height="15.5"/>
<rect x="307.4" y="1539.1" width="4.5" height="15.5"/>
<rect x="390.4" y="1539.1" width="4.5" height="15.5"/>
<rect x="473.4" y="1539.1" width="4.5" height="15.5"/>
<text font-size="37.1" text-anchor="middle" transform="translate(37.6 1355.2) scale(1.05 1) rotate(-90)">% Forest condition</text>
<path d="M530.2 1173.9V1537.8H894.9" fill="none" stroke="#000" stroke-width="4.6"/>
<rect x="513.4" y="1188" width="15.5" height="4.5"/>
<rect x="513.4" y="1270.9" width="15.5" height="4.5"/>
<rect x="513.4" y="1353.8" width="15.5" height="4.5"/>
<rect x="513.4" y="1436.7" width="15.5" height="4.5"/>
<rect x="513.4" y="1518.7" width="15.5" height="4.5"/>
<rect x="544.1" y="1539.1" width="4.5" height="15.5"/>
<rect x="627.1" y="1539.1" width="4.5" height="15.5"/>
<rect x="710.1" y="1539.1" width="4.5" height="15.5"/>
<rect x="793.1" y="1539.1" width="4.5" height="15.5"/>
<rect x="876.1" y="1539.1" width="4.5" height="15.5"/>
<path d="M127.4 1564V1927.9H492.1" fill="none" stroke="#000" stroke-width="4.6"/>
<rect x="110.6" y="1578" width="15.5" height="4.5"/>
<text x="107" y="1594.2" font-size="38.3" text-anchor="end">100</text>
<rect x="110.6" y="1661" width="15.5" height="4.5"/>
<text x="107" y="1677.1" font-size="38.3" text-anchor="end">75</text>
<rect x="110.6" y="1743.8" width="15.5" height="4.5"/>
<text x="107" y="1760" font-size="38.3" text-anchor="end">50</text>
<rect x="110.6" y="1826.8" width="15.5" height="4.5"/>
<text x="107" y="1842.9" font-size="38.3" text-anchor="end">25</text>
<rect x="110.6" y="1908.8" width="15.5" height="4.5"/>
<text x="107" y="1924.9" font-size="38.3" text-anchor="end">1</text>
<rect x="141.3" y="1929.2" width="4.5" height="15.5"/>
<text x="143.6" y="1975.8" font-size="38.3" text-anchor="middle">0</text>
<rect x="224.3" y="1929.2" width="4.5" height="15.5"/>
<text x="226.6" y="1975.8" font-size="38.3" text-anchor="middle">25</text>
<rect x="307.4" y="1929.2" width="4.5" height="15.5"/>
<text x="309.6" y="1975.8" font-size="38.3" text-anchor="middle">50</text>
<rect x="390.4" y="1929.2" width="4.5" height="15.5"/>
<text x="392.6" y="1975.8" font-size="38.3" text-anchor="middle">75</text>
<rect x="473.4" y="1929.2" width="4.5" height="15.5"/>
<text x="475.6" y="1975.8" font-size="38.3" text-anchor="middle">100</text>
<text font-size="37.1" text-anchor="middle" transform="translate(37.6 1745.3) scale(1.05 1) rotate(-90)">% Forest condition</text>
<text x="309.7" y="2020.2" font-size="38.5" text-anchor="middle">% Forest integrity</text>
<path d="M530.2 1564V1927.9H894.9" fill="none" stroke="#000" stroke-width="4.6"/>
<rect x="513.4" y="1578" width="15.5" height="4.5"/>
<rect x="513.4" y="1661" width="15.5" height="4.5"/>
<rect x="513.4" y="1743.8" width="15.5" height="4.5"/>
<rect x="513.4" y="1826.8" width="15.5" height="4.5"/>
<rect x="513.4" y="1908.8" width="15.5" height="4.5"/>
<rect x="544.1" y="1929.2" width="4.5" height="15.5"/>
<text x="546.4" y="1975.8" font-size="38.3" text-anchor="middle">0</text>
<rect x="627.1" y="1929.2" width="4.5" height="15.5"/>
<text x="629.4" y="1975.8" font-size="38.3" text-anchor="middle">25</text>
<rect x="710.1" y="1929.2" width="4.5" height="15.5"/>
<text x="712.4" y="1975.8" font-size="38.3" text-anchor="middle">50</text>
<rect x="793.1" y="1929.2" width="4.5" height="15.5"/>
<text x="795.4" y="1975.8" font-size="38.3" text-anchor="middle">75</text>
<rect x="876.1" y="1929.2" width="4.5" height="15.5"/>
<text x="878.4" y="1975.8" font-size="38.3" text-anchor="middle">100</text>
<text x="712.5" y="2020.2" font-size="38.5" text-anchor="middle">% Forest integrity</text>
<path d="M1011.9 1176.8V1540.7H1376.6" fill="none" stroke="#000" stroke-width="4.6"/>
<rect x="995.1" y="1190.8" width="15.5" height="4.5"/>
<rect x="995.1" y="1273.8" width="15.5" height="4.5"/>
<rect x="995.1" y="1356.6" width="15.5" height="4.5"/>
<rect x="995.1" y="1439.5" width="15.5" height="4.5"/>
<rect x="995.1" y="1521.5" width="15.5" height="4.5"/>
<rect x="1025.9" y="1542" width="4.5" height="15.5"/>
<rect x="1108.9" y="1542" width="4.5" height="15.5"/>
<rect x="1191.9" y="1542" width="4.5" height="15.5"/>
<rect x="1274.9" y="1542" width="4.5" height="15.5"/>
<rect x="1357.9" y="1542" width="4.5" height="15.5"/>
<path d="M1414.2 1176.8V1540.7H1778.9" fill="none" stroke="#000" stroke-width="4.6"/>
<rect x="1397.4" y="1190.8" width="15.5" height="4.5"/>
<rect x="1397.4" y="1273.8" width="15.5" height="4.5"/>
<rect x="1397.4" y="1356.6" width="15.5" height="4.5"/>
<rect x="1397.4" y="1439.5" width="15.5" height="4.5"/>
<rect x="1397.4" y="1521.5" width="15.5" height="4.5"/>
<rect x="1428.2" y="1542" width="4.5" height="15.5"/>
<rect x="1511.2" y="1542" width="4.5" height="15.5"/>
<rect x="1594.2" y="1542" width="4.5" height="15.5"/>
<rect x="1677.2" y="1542" width="4.5" height="15.5"/>
<rect x="1760.2" y="1542" width="4.5" height="15.5"/>
<text font-size="40.7" text-anchor="middle" transform="translate(1803.3 1364.8) scale(1.05 1) rotate(90)">Obligate</text>
<path d="M1014.6 1564.2V1928.1H1379.3" fill="none" stroke="#000" stroke-width="4.6"/>
<rect x="997.8" y="1578.2" width="15.5" height="4.5"/>
<rect x="997.8" y="1661.2" width="15.5" height="4.5"/>
<rect x="997.8" y="1744" width="15.5" height="4.5"/>
<rect x="997.8" y="1827" width="15.5" height="4.5"/>
<rect x="997.8" y="1909" width="15.5" height="4.5"/>
<rect x="1028.6" y="1929.4" width="4.5" height="15.5"/>
<text x="1030.8" y="1976" font-size="38.3" text-anchor="middle">0</text>
<rect x="1111.6" y="1929.4" width="4.5" height="15.5"/>
<text x="1113.8" y="1976" font-size="38.3" text-anchor="middle">25</text>
<rect x="1194.6" y="1929.4" width="4.5" height="15.5"/>
<text x="1196.8" y="1976" font-size="38.3" text-anchor="middle">50</text>
<rect x="1277.6" y="1929.4" width="4.5" height="15.5"/>
<text x="1279.8" y="1976" font-size="38.3" text-anchor="middle">75</text>
<rect x="1360.6" y="1929.4" width="4.5" height="15.5"/>
<text x="1362.8" y="1976" font-size="38.3" text-anchor="middle">100</text>
<text x="1196.9" y="2020.4" font-size="38.5" text-anchor="middle">% Forest integrity</text>
<path d="M1414.2 1564.2V1928.1H1778.9" fill="none" stroke="#000" stroke-width="4.6"/>
<rect x="1397.4" y="1578.2" width="15.5" height="4.5"/>
<rect x="1397.4" y="1661.2" width="15.5" height="4.5"/>
<rect x="1397.4" y="1744" width="15.5" height="4.5"/>
<rect x="1397.4" y="1827" width="15.5" height="4.5"/>
<rect x="1397.4" y="1909" width="15.5" height="4.5"/>
<rect x="1428.2" y="1929.4" width="4.5" height="15.5"/>
<text x="1430.4" y="1976" font-size="38.3" text-anchor="middle">0</text>
<rect x="1511.2" y="1929.4" width="4.5" height="15.5"/>
<text x="1513.4" y="1976" font-size="38.3" text-anchor="middle">25</text>
<rect x="1594.2" y="1929.4" width="4.5" height="15.5"/>
<text x="1596.4" y="1976" font-size="38.3" text-anchor="middle">50</text>
<rect x="1677.2" y="1929.4" width="4.5" height="15.5"/>
<text x="1679.4" y="1976" font-size="38.3" text-anchor="middle">75</text>
<rect x="1760.2" y="1929.4" width="4.5" height="15.5"/>
<text x="1762.4" y="1976" font-size="38.3" text-anchor="middle">100</text>
<text x="1596.5" y="2020.4" font-size="38.5" text-anchor="middle">% Forest integrity</text>
<text font-size="42.0" text-anchor="middle" transform="translate(1800.8 1753.4) scale(1.0 1) rotate(90)">Associated</text>
</g>
<g>
<rect x="1861.6" y="975.2" width="54.3" height="272.2" fill="url(#lg)"/>
<text x="1934" y="987.4" font-size="33.8" text-anchor="start">1.0</text>
<rect x="1861.6" y="1028.8" width="10" height="1.6" fill="#fff" opacity=".55"/>
<rect x="1905.9" y="1028.8" width="10" height="1.6" fill="#fff" opacity=".55"/>
<text x="1934" y="1041.8" font-size="33.8" text-anchor="start">0.8</text>
<rect x="1861.6" y="1083.2" width="10" height="1.6" fill="#fff" opacity=".55"/>
<rect x="1905.9" y="1083.2" width="10" height="1.6" fill="#fff" opacity=".55"/>
<text x="1934" y="1096.2" font-size="33.8" text-anchor="start">0.6</text>
<rect x="1861.6" y="1137.6" width="10" height="1.6" fill="#fff" opacity=".55"/>
<rect x="1905.9" y="1137.6" width="10" height="1.6" fill="#fff" opacity=".55"/>
<text x="1934" y="1150.6" font-size="33.8" text-anchor="start">0.4</text>
<rect x="1861.6" y="1192" width="10" height="1.6" fill="#fff" opacity=".55"/>
<rect x="1905.9" y="1192" width="10" height="1.6" fill="#fff" opacity=".55"/>
<text x="1934" y="1205" font-size="33.8" text-anchor="start">0.2</text>
<text x="1934" y="1259.4" font-size="33.8" text-anchor="start">0.0</text>
<text x="1862" y="953.6" font-size="33.9" text-anchor="start">Probability</text>
</g>
<g>
<path d="M405.5 106C404.2 105.2 402.2 102.2 401.3 100C400.4 97.8 400 95.6 400.1 92.9C400.2 90.1 400.6 86.9 401.9 83.3C403.2 79.8 405.9 75.6 407.9 71.4C409.8 67.3 411.6 62.3 413.8 58.3C416 54.4 419.1 50.4 421 47.6C422.8 44.8 424.3 43.6 424.9 41.7C425.5 39.8 424.2 37.7 424.5 36.3C424.9 34.9 425.8 34 426.9 33.3C428 32.7 429.7 32.3 431.1 32.4C432.4 32.5 433.9 33.4 435 33.9C436.1 34.5 436 36.2 437.4 35.7C438.8 35.2 440.8 32.9 443.6 31C446.4 29 450.5 26.2 454.3 23.8C458.1 21.4 462.2 18.6 466.2 16.7C470.2 14.8 473.7 13.5 478.1 12.5C482.5 11.5 487.6 11.4 492.4 10.7C497.1 10 502.3 9.2 506.7 8.3C511 7.4 514.6 6.1 518.6 5.4C522.5 4.6 526.5 4.1 530.5 3.8C534.4 3.5 538.4 3.2 542.4 3.3C546.3 3.5 550.5 3.9 554.3 4.8C558.1 5.6 561.4 6.6 565 8.3C568.6 10 572.3 12.5 575.7 14.9C579.1 17.3 582.5 20.1 585.2 22.6C588 25.1 590.4 27.4 592.4 29.8C594.4 32.1 596.1 34.9 597.1 36.9C598.2 38.9 598.6 39.5 598.6 41.7C598.5 43.8 597.7 47.4 596.9 50C596.1 52.6 594.8 54.8 593.8 57.1C592.9 59.5 590.2 61.9 591.2 64.3C592.2 66.7 599.8 71.4 599.8 71.4C599.8 71.4 600.9 77.8 601.7 81C602.5 84.1 603.7 87.9 604.5 90.5C605.4 93.1 606.7 94.4 606.9 96.4C607.1 98.4 606.5 101 605.7 102.4C604.9 103.8 603.2 104.6 602.1 104.8C601.1 105 600.7 103.5 599.5 103.6C598.3 103.7 596.2 105.3 595 105.4C593.8 105.5 592 105.3 592.4 104.2C592.8 103.1 596.7 100.7 597.4 98.8C598.1 96.9 597.4 95.4 596.5 92.9C595.7 90.3 594.3 86.1 592.4 83.3C590.5 80.6 588 78.4 585.2 76.2C582.5 74 578.5 71.7 575.7 70.2C572.9 68.8 570.4 67.8 568.6 67.6C566.8 67.4 565.6 68 565 69C564.4 70.1 565 71.4 565.2 73.8C565.5 76.2 566.8 80.6 566.4 83.3C566 86.1 564.4 87.9 562.9 90.5C561.3 93.1 558.5 96.4 556.9 98.8C555.3 101.2 554.5 103.2 553.3 104.8C552.1 106.3 551.2 107.3 549.8 108.3C548.4 109.3 546.2 110.6 545 110.7C543.8 110.8 543.6 109.2 542.4 108.9C541.2 108.6 539.2 109.1 537.9 108.9C536.5 108.7 533.9 108.5 534 107.7C534.2 106.9 537 105.3 538.8 104.2C540.6 103.1 543 102.9 544.8 101.2C546.5 99.5 548.3 96.2 549.5 94C550.7 91.9 551.9 90.9 551.9 88.1C551.9 85.3 550.5 80.6 549.8 77.4C549 74.2 549.4 70.4 547.4 69C545.4 67.7 541 68.8 537.6 69C534.2 69.3 530.5 70.2 526.9 70.5C523.3 70.8 519.2 70.9 516.2 70.8C513.2 70.8 511 70.1 509 70.2C507.1 70.3 505.3 70 504.3 71.4C503.3 72.8 503.7 75.8 503.1 78.6C502.5 81.3 501.5 84.3 500.7 88.1C499.9 91.9 498.9 97.4 498.3 101.2C497.7 105 497.2 108.7 497.1 110.7C497 112.7 498.1 111.9 497.7 113.1C497.3 114.3 495.7 116.9 494.8 117.9C493.9 118.8 493.4 118.6 492.4 119C491.4 119.5 490 120.5 488.8 120.5C487.6 120.5 486.4 119.2 485.2 119C484 118.9 482.8 119.8 481.7 119.8C480.6 119.8 479.1 119.7 478.7 119C478.3 118.4 478.4 117.2 479.3 116.1C480.2 114.9 482.5 113 484 112.1C485.6 111.2 488 112.5 488.8 110.7C489.6 108.9 489.1 104.6 488.8 101.2C488.5 97.8 487.7 93.8 487 90.5C486.3 87.1 485.1 83.1 484.6 81C484.1 78.8 485.1 78 484 77.4C483 76.8 480.1 76.6 478.1 77.4C476.1 78.2 474.1 80.8 472.1 82.1C470.2 83.5 468.6 83.9 466.2 85.7C463.8 87.5 460.2 90.5 457.9 92.9C455.5 95.2 453.5 98 451.9 100C450.3 102 448.8 103.6 448.3 104.8C447.8 106 449.3 106 448.9 107.1C448.5 108.3 446.6 110.3 446 111.9C445.3 113.5 445.6 115.7 444.8 116.7C444 117.7 442.3 118.1 441.2 117.9C440.1 117.7 438.8 116.9 438.2 115.5C437.6 114.1 437.3 111.5 437.6 109.5C437.9 107.5 439 105.8 440 103.6C441 101.4 442.2 99.4 443.6 96.4C445 93.5 446.7 89.1 448.3 85.7C449.9 82.3 452 78.3 453.1 76.2C454.2 74.1 455.5 73.6 454.9 73.2C454.3 72.8 451.2 72.7 449.5 73.8C447.8 74.9 446.3 78 444.8 79.8C443.2 81.5 441.8 82.9 440 84.5C438.2 86.1 436 88 434 89.3C432.1 90.6 429.9 91.8 428.1 92.3C426.3 92.8 424.9 91.8 423.3 92.3C421.7 92.8 420.4 93.8 418.6 95.2C416.8 96.7 414.2 99.6 412.6 101.2C411 102.8 410.2 104 409 104.8C407.9 105.6 406.8 106.7 405.5 106Z"/>
<path d="M1324.4 8.6C1324.4 8.6 1326.8 7.2 1328.6 7C1330.4 6.8 1333 7.2 1335.2 7.3C1337.3 7.4 1340 7.9 1341.7 7.6C1343.4 7.4 1343.9 6.2 1345.4 5.6C1347 4.9 1349 4.1 1351 3.7C1353 3.3 1355.3 3.2 1357.5 3.3C1359.7 3.3 1361.9 3.5 1364 4.2C1366.2 4.9 1368.5 6.1 1370.6 7.5C1372.6 8.8 1374.6 10.4 1376.2 12.1C1377.7 13.8 1378.9 15.8 1379.9 17.7C1380.8 19.6 1381.1 21.6 1381.7 23.3C1382.4 25 1382.8 26.5 1383.6 28C1384.4 29.4 1384.7 30.4 1386.4 32.1C1388.1 33.9 1391.1 35.8 1393.9 38.2C1396.6 40.6 1400.1 43.5 1403.2 46.6C1406.3 49.7 1409.4 53.4 1412.5 56.8C1415.6 60.3 1419 64 1421.8 67.1C1424.6 70.2 1427.1 73.1 1429.3 75.5C1431.4 77.8 1433.3 79.2 1434.8 81.1C1436.4 82.9 1437 84.9 1438.6 86.6C1440.1 88.4 1442.3 90.1 1444.2 91.8C1446 93.5 1449.8 96.9 1449.8 96.9C1449.8 96.9 1448.5 98.6 1447.9 99.2C1447.3 99.9 1445 99 1446.2 100.8C1447.5 102.6 1452.3 106.7 1455.3 109.9C1458.4 113.2 1462.2 117.6 1464.7 120.2C1467.1 122.8 1468.6 124.1 1470.3 125.8C1471.9 127.5 1474.4 130.4 1474.4 130.4C1474.4 130.4 1474.1 131.8 1473 132.3C1472 132.8 1468.4 133.2 1468.4 133.2C1468.4 133.2 1467.1 132.8 1465.6 131.4C1464 130 1461.7 127.5 1459.1 124.8C1456.4 122.2 1452.9 118.5 1449.8 115.5C1446.7 112.6 1443.1 109.2 1440.4 107.1C1437.8 105.1 1435.8 104.4 1433.9 103.4C1432.1 102.4 1431 101.7 1429.3 101.1C1427.6 100.5 1425.7 99.7 1423.7 99.7C1421.6 99.7 1419.2 100.6 1417.1 101.1C1415.1 101.6 1413.9 102.2 1411.6 102.5C1409.2 102.8 1405.8 103 1403.2 103C1400.5 103 1398 102.7 1395.7 102.5C1393.4 102.3 1391.4 102.2 1389.2 101.6C1387 100.9 1385 100 1382.7 98.8C1380.3 97.5 1377.7 96.1 1375.2 94.1C1372.7 92.1 1369.9 89.1 1367.8 86.6C1365.6 84.2 1364 82 1362.2 79.2C1360.3 76.4 1358.3 72.8 1356.6 69.9C1354.9 66.9 1353.2 64.4 1351.9 61.5C1350.6 58.5 1349.4 55 1348.7 52.2C1348 49.4 1347.9 46.9 1347.7 44.7C1347.6 42.5 1347.5 40.7 1347.7 39.1C1348 37.6 1348.6 36.5 1349.1 35.4C1349.7 34.3 1350.8 33.9 1351 32.6C1351.2 31.4 1350.7 29.8 1350.1 28C1349.4 26.1 1348.2 23.4 1347.3 21.4C1346.3 19.4 1345.4 17.2 1344.5 15.8C1343.5 14.4 1342.9 13.7 1341.7 13C1340.4 12.4 1338.7 12.5 1337 12.1C1335.3 11.7 1333.1 11.1 1331.4 10.7C1329.7 10.3 1327.9 10.1 1326.8 9.8C1325.6 9.4 1324.4 8.6 1324.4 8.6Z"/>
<path d="M1395.7 102C1394.5 102.5 1398 104.1 1398.5 105.3C1399.1 106.4 1400.1 107.1 1399 109C1397.8 110.9 1394.1 113.7 1391.5 116.5C1389 119.3 1385.9 122.9 1383.6 125.8C1381.3 128.7 1377.1 132.4 1377.5 133.7C1378 135 1384.1 135 1386.4 133.7C1388.7 132.4 1389.4 128.7 1391.5 125.8C1393.7 122.9 1397 119.3 1399.4 116.5C1401.9 113.7 1404.8 111 1406 109C1407.1 107 1406.4 105.4 1406.4 104.4C1406.4 103.3 1407.8 102.9 1406 102.5C1404.2 102.1 1397 101.6 1395.7 102Z"/>
<path d="M1406 102.5C1406.3 101.5 1407.8 101.9 1408.8 102.5C1409.7 103.1 1411.2 105 1411.6 106.2C1411.9 107.5 1411.8 108.2 1411.1 109.9C1410.4 111.6 1409.3 113.8 1407.4 116.5C1405.4 119.1 1401.6 122.8 1399.4 125.8C1397.3 128.7 1396 132.8 1394.3 134.2C1392.6 135.5 1389.2 135.1 1389.2 133.7C1389.2 132.3 1392.1 128.7 1394.3 125.8C1396.5 122.9 1400.1 119.3 1402.2 116.5C1404.3 113.6 1406.3 110.9 1406.9 108.5C1407.5 106.2 1405.7 103.5 1406 102.5Z"/>
<path d="M1351.5 135.1C1351.5 135.1 1353.6 133.9 1354.7 133.8C1355.9 133.7 1356.6 134.7 1358.4 134.7C1360.3 134.8 1363.4 134.3 1365.9 134.2C1368.4 134 1371.3 134.2 1373.4 134C1375.4 133.8 1376.2 133.1 1378 133C1379.9 133 1382.7 133.2 1384.5 133.4C1386.4 133.7 1388.1 134 1389.2 134.6C1390.3 135.2 1391.2 136.4 1391.1 137C1390.9 137.5 1389.5 137.7 1388.3 137.7C1387 137.7 1385.8 137 1383.6 137C1381.4 136.9 1378.2 137.1 1375.2 137.2C1372.3 137.3 1368.7 137.5 1365.9 137.5C1363.1 137.6 1360.3 137.7 1358.4 137.5C1356.6 137.4 1355.9 137 1354.7 136.6C1353.6 136.2 1351.5 135.1 1351.5 135.1Z"/>
<path d="M1389.2 134.6C1390 134 1392.1 134.3 1393.9 134.2C1395.6 134.1 1397.4 134.2 1399.4 134C1401.5 133.7 1404.1 132.9 1406 132.8C1407.8 132.6 1409.6 132.9 1410.6 133.2C1411.7 133.6 1412.2 134.8 1412.2 134.8C1412.2 134.8 1409.3 134.2 1407.8 134.3C1406.3 134.4 1404.9 135.1 1403.2 135.4C1401.5 135.7 1399.1 135.9 1397.6 136.1C1396.1 136.3 1394.7 136.3 1394.3 136.6C1394 136.9 1395.5 138.1 1395.5 138.1C1395.5 138.1 1393 137.1 1392 137.1C1390.9 137 1389.7 138.1 1389.2 137.7C1388.7 137.3 1388.4 135.2 1389.2 134.6Z"/>
<path d="M414.6 1032.1C414.8 1030.7 416 1029.4 417.7 1028C419.5 1026.6 422.2 1025 425 1023.8C427.8 1022.6 431.3 1021.4 434.4 1020.7C437.5 1019.9 441 1019.3 443.8 1019.4C446.6 1019.5 449 1020.3 451.1 1021.2C453.2 1022.1 454.9 1023.8 456.3 1024.8C457.7 1025.9 458.2 1026.9 459.4 1027.4C460.7 1028 462.2 1029.1 463.6 1028.2C465 1027.2 467 1024.2 467.8 1021.7C468.6 1019.2 468.5 1016 468.3 1013.4C468.1 1010.8 466.6 1008.2 466.7 1006.1C466.8 1004 467.8 1001.7 468.8 1000.9C469.9 1000 471.8 999.8 473 1000.9C474.2 1001.9 475.3 1004.9 476.1 1007.1C477 1009.4 477.9 1012 478 1014.4C478.1 1016.8 477.2 1019.5 476.6 1021.7C476.1 1024 474.8 1026.4 474.6 1028C474.3 1029.5 473.9 1030.1 475.1 1031.1C476.2 1032.1 479.1 1032.8 481.3 1034.2C483.6 1035.6 486.2 1037.5 488.6 1039.4C491.1 1041.3 493.3 1043.6 495.9 1045.7C498.5 1047.8 501.8 1050.4 504.3 1051.9C506.7 1053.5 508.7 1054.2 510.5 1055.1C512.4 1055.9 514.4 1057.9 515.2 1057.2C516.1 1056.5 515.4 1053.2 515.7 1050.9C516.1 1048.6 516.6 1045.7 517.3 1043.6C518 1041.5 518.6 1039.4 519.9 1038.4C521.2 1037.4 523.8 1036.8 525.1 1037.4C526.4 1037.9 527.6 1039.8 527.7 1041.5C527.9 1043.3 526.3 1045.9 526.2 1047.8C526 1049.7 526.2 1051.4 526.7 1053C527.2 1054.6 528 1055.6 529.3 1057.2C530.6 1058.7 533 1060.6 534.5 1062.4C536.1 1064.1 536.8 1066 538.7 1067.6C540.6 1069.2 543.6 1070.5 546 1071.8C548.4 1073 550.9 1073.3 553.3 1074.9C555.7 1076.5 558.3 1078.9 560.6 1081.1C562.8 1083.4 564.9 1085.7 566.8 1088.4C568.8 1091.2 570.5 1094.5 572.1 1097.8C573.6 1101.1 575.2 1104.4 576.2 1108.3C577.3 1112.1 578.1 1116.9 578.3 1120.8C578.6 1124.6 578.1 1127.7 577.8 1131.2C577.4 1134.7 577.2 1138.2 576.2 1141.6C575.3 1145.1 573.8 1148.9 572.1 1152.1C570.3 1155.2 568.2 1158.1 565.8 1160.4C563.4 1162.7 560.4 1164.4 557.5 1165.6C554.5 1166.9 550.7 1167.5 548.1 1167.9C545.5 1168.4 543.4 1168.4 541.8 1168.3C540.3 1168.2 538.7 1167.2 538.7 1167.2C538.7 1167.2 541.8 1166.4 543.9 1165.6C546 1164.8 548.9 1163.9 551.2 1162.5C553.5 1161.1 555.5 1159.5 557.5 1157.3C559.4 1155 561.3 1152.1 562.7 1148.9C564.1 1145.8 565.1 1142 565.8 1138.5C566.5 1135 566.8 1131.5 566.8 1128.1C566.8 1124.6 566.5 1121.1 565.8 1117.6C565.1 1114.2 564.1 1110.5 562.7 1107.2C561.3 1103.9 559.4 1100.6 557.5 1097.8C555.5 1095.1 553.3 1092.6 551.2 1090.5C549.1 1088.4 547 1086.6 544.9 1085.3C542.9 1084 540.4 1083.1 538.7 1082.7C536.9 1082.4 535.7 1082.3 534.5 1083.2C533.3 1084.2 532.5 1086.5 531.4 1088.4C530.3 1090.4 528.5 1092.8 527.7 1094.7C527 1096.6 526.3 1098.4 526.7 1099.9C527.1 1101.5 530.1 1102.5 530.3 1104.1C530.6 1105.7 529.5 1108.6 528.3 1109.3C527 1110 524.8 1109.3 523 1108.3C521.3 1107.2 519.2 1105 517.8 1103C516.4 1101.1 515.3 1098.9 514.7 1096.8C514.1 1094.7 514 1092.6 514.2 1090.5C514.4 1088.4 517 1085.3 515.7 1084.3C514.4 1083.2 509.1 1084.5 506.4 1084.3C503.6 1084 501.5 1083.6 499.1 1082.7C496.6 1081.8 494 1080.5 491.8 1079.1C489.5 1077.6 487.6 1075.8 485.5 1073.8C483.4 1071.9 481.3 1069.5 479.2 1067.6C477.2 1065.7 474.7 1063.4 473 1062.4C471.3 1061.3 469.9 1060.8 468.8 1061.3C467.8 1061.9 467.8 1064.3 466.7 1065.5C465.7 1066.7 464.3 1067.8 462.6 1068.6C460.8 1069.5 457.7 1071.1 456.3 1070.7C454.9 1070.4 453.9 1067.9 454.2 1066.5C454.6 1065.2 457.2 1063.9 458.4 1062.4C459.6 1060.8 461.2 1058.7 461.5 1057.2C461.9 1055.6 461 1054.2 460.5 1053C460 1051.8 459.8 1050.2 458.4 1049.9C457 1049.5 454.6 1050.6 452.1 1050.9C449.7 1051.2 446.4 1051.6 443.8 1051.4C441.2 1051.3 438.9 1050.8 436.5 1049.9C434.1 1048.9 431.6 1047.3 429.2 1045.7C426.8 1044.1 424 1042 421.9 1040.5C419.8 1038.9 417.9 1037.7 416.7 1036.3C415.5 1034.9 414.4 1033.5 414.6 1032.1Z"/>
<circle cx="469.9" cy="1001.9" r="3.6"/>
<path d="M469.9 1001.9L459.6 998.2" fill="none" stroke="#000" stroke-width="2.6" stroke-linecap="round"/>
<path d="M462.5 999.3L460.0 998.4" fill="none" stroke="#000" stroke-width="3.8" stroke-linecap="round"/>
<path d="M469.9 1001.9L463.8 992.0" fill="none" stroke="#000" stroke-width="2.6" stroke-linecap="round"/>
<path d="M465.5 994.8L464.0 992.3" fill="none" stroke="#000" stroke-width="3.8" stroke-linecap="round"/>
<path d="M469.9 1001.9L470.9 989.4" fill="none" stroke="#000" stroke-width="2.6" stroke-linecap="round"/>
<path d="M470.6 992.9L470.9 989.8" fill="none" stroke="#000" stroke-width="3.8" stroke-linecap="round"/>
<path d="M469.9 1001.9L478.4 993.3" fill="none" stroke="#000" stroke-width="2.6" stroke-linecap="round"/>
<path d="M476.0 995.7L478.2 993.6" fill="none" stroke="#000" stroke-width="3.8" stroke-linecap="round"/>
<path d="M469.9 1001.9L478.7 1002.9" fill="none" stroke="#000" stroke-width="2.6" stroke-linecap="round"/>
<path d="M476.2 1002.6L478.5 1002.9" fill="none" stroke="#000" stroke-width="3.8" stroke-linecap="round"/>
<circle cx="524.1" cy="1035.3" r="3.6"/>
<path d="M524.1 1035.3L512.6 1029.5" fill="none" stroke="#000" stroke-width="2.6" stroke-linecap="round"/>
<path d="M515.8 1031.1L513.0 1029.7" fill="none" stroke="#000" stroke-width="3.8" stroke-linecap="round"/>
<path d="M524.1 1035.3L518.0 1024.3" fill="none" stroke="#000" stroke-width="2.6" stroke-linecap="round"/>
<path d="M519.7 1027.4L518.2 1024.6" fill="none" stroke="#000" stroke-width="3.8" stroke-linecap="round"/>
<path d="M524.1 1035.3L523.6 1018.6" fill="none" stroke="#000" stroke-width="2.6" stroke-linecap="round"/>
<path d="M523.7 1023.3L523.6 1019.1" fill="none" stroke="#000" stroke-width="3.8" stroke-linecap="round"/>
<path d="M524.1 1035.3L532.6 1020.7" fill="none" stroke="#000" stroke-width="2.6" stroke-linecap="round"/>
<path d="M530.2 1024.8L532.4 1021.1" fill="none" stroke="#000" stroke-width="3.8" stroke-linecap="round"/>
<path d="M524.1 1035.3L537.1 1040.5" fill="none" stroke="#000" stroke-width="2.6" stroke-linecap="round"/>
<path d="M533.5 1039.0L536.7 1040.3" fill="none" stroke="#000" stroke-width="3.8" stroke-linecap="round"/>
<circle cx="456.3" cy="1068.6" r="3.6"/>
<path d="M456.3 1068.6L451.3 1058.7" fill="none" stroke="#000" stroke-width="2.6" stroke-linecap="round"/>
<path d="M452.7 1061.5L451.5 1059.0" fill="none" stroke="#000" stroke-width="3.8" stroke-linecap="round"/>
<path d="M456.3 1068.6L444.8 1064.3" fill="none" stroke="#000" stroke-width="2.6" stroke-linecap="round"/>
<path d="M448.1 1065.5L445.2 1064.4" fill="none" stroke="#000" stroke-width="3.8" stroke-linecap="round"/>
<path d="M456.3 1068.6L444.3 1072.3" fill="none" stroke="#000" stroke-width="2.6" stroke-linecap="round"/>
<path d="M447.7 1071.3L444.7 1072.2" fill="none" stroke="#000" stroke-width="3.8" stroke-linecap="round"/>
<path d="M456.3 1068.6L450.8 1078.5" fill="none" stroke="#000" stroke-width="2.6" stroke-linecap="round"/>
<path d="M452.3 1075.8L450.9 1078.2" fill="none" stroke="#000" stroke-width="3.8" stroke-linecap="round"/>
<path d="M456.3 1068.6L460.3 1076.1" fill="none" stroke="#000" stroke-width="2.6" stroke-linecap="round"/>
<path d="M459.2 1074.0L460.2 1075.9" fill="none" stroke="#000" stroke-width="3.8" stroke-linecap="round"/>
<circle cx="527.2" cy="1107.7" r="3.6"/>
<path d="M527.2 1107.7L545.2 1104.3" fill="none" stroke="#000" stroke-width="2.6" stroke-linecap="round"/>
<path d="M540.1 1105.3L544.6 1104.4" fill="none" stroke="#000" stroke-width="3.8" stroke-linecap="round"/>
<path d="M527.2 1107.7L517.8 1105.7" fill="none" stroke="#000" stroke-width="2.6" stroke-linecap="round"/>
<path d="M520.5 1106.2L518.1 1105.7" fill="none" stroke="#000" stroke-width="3.8" stroke-linecap="round"/>
<path d="M527.2 1107.7L519.9 1114.7" fill="none" stroke="#000" stroke-width="2.6" stroke-linecap="round"/>
<path d="M522.0 1112.8L520.1 1114.5" fill="none" stroke="#000" stroke-width="3.8" stroke-linecap="round"/>
<path d="M527.2 1107.7L524.8 1121.3" fill="none" stroke="#000" stroke-width="2.6" stroke-linecap="round"/>
<path d="M525.5 1117.5L524.9 1120.9" fill="none" stroke="#000" stroke-width="3.8" stroke-linecap="round"/>
<path d="M527.2 1107.7L534.7 1122.3" fill="none" stroke="#000" stroke-width="2.6" stroke-linecap="round"/>
<path d="M532.6 1118.2L534.5 1121.9" fill="none" stroke="#000" stroke-width="3.8" stroke-linecap="round"/>
<path d="M1392.4 1013.3C1394.4 1013.4 1397.2 1013.8 1399.3 1014.8C1401.5 1015.7 1403.4 1017.4 1405.2 1019.2C1407 1021 1408.8 1023.5 1410.1 1025.6C1411.5 1027.6 1412.2 1029.8 1413.1 1031.5C1414 1033.2 1414.2 1035.7 1415.6 1035.9C1416.9 1036.1 1420.3 1034 1421 1032.5C1421.6 1030.9 1420 1028.3 1419.5 1026.6C1419 1024.8 1417.8 1022.1 1417.8 1022.1C1417.8 1022.1 1420.2 1024 1421.5 1025.8C1422.7 1027.5 1424.3 1030.4 1425.4 1032.5C1426.5 1034.5 1427 1037 1427.9 1037.9C1428.7 1038.7 1429.7 1038.8 1430.3 1037.4C1431 1036 1431.3 1031.4 1431.8 1029.5C1432.3 1027.6 1433.3 1026.1 1433.3 1026.1C1433.3 1026.1 1434 1027.3 1434.2 1029.5C1434.5 1031.7 1434.1 1036.4 1434.5 1039.3C1434.9 1042.3 1436 1044.6 1436.7 1047.2C1437.4 1049.8 1438.2 1052.3 1438.7 1055.1C1439.2 1057.9 1439.5 1061.3 1439.7 1063.9C1439.8 1066.5 1440 1069 1439.7 1070.8C1439.3 1072.6 1438.8 1073.8 1437.7 1074.7C1436.5 1075.7 1434.7 1076.5 1432.8 1076.7C1430.8 1076.9 1428 1076.2 1425.9 1075.7C1423.8 1075.2 1421.5 1073.4 1420 1073.8C1418.5 1074.1 1417.5 1076.1 1417 1077.7C1416.5 1079.3 1417 1081.5 1417 1083.6C1417.1 1085.7 1417.4 1088.2 1417.5 1090.5C1417.7 1092.8 1417.7 1095.9 1418 1097.4C1418.3 1098.8 1417.9 1099.7 1419.2 1099.3C1420.5 1099 1423.5 1096.5 1425.9 1095.4C1428.3 1094.3 1431.1 1093.5 1433.8 1092.9C1436.4 1092.4 1440.1 1093 1441.6 1092C1443.1 1090.9 1442.2 1088 1442.6 1086.5C1443 1085.1 1443.8 1083.1 1443.8 1083.1C1443.8 1083.1 1444.6 1085.2 1445.1 1086.5C1445.6 1087.9 1445.7 1091.1 1446.7 1091.5C1447.8 1091.8 1449.8 1089.8 1451.5 1088.5C1453.1 1087.2 1454.7 1085.2 1456.4 1083.6C1458 1082 1461.5 1079 1461.5 1079C1461.5 1079 1460 1084.1 1459.3 1086.5C1458.6 1089 1457.8 1091.3 1457.4 1093.4C1456.9 1095.6 1455.9 1097.7 1456.6 1099.3C1457.2 1101 1459.5 1102 1461.3 1103.3C1463.1 1104.5 1467.4 1106.7 1467.4 1106.7C1467.4 1106.7 1464.9 1109.6 1463.3 1111.1C1461.6 1112.7 1459.3 1114.2 1457.4 1116.1C1455.4 1117.9 1453.8 1119.8 1451.5 1122C1449.2 1124.1 1446.2 1126.5 1443.6 1128.8C1441 1131.1 1438.3 1133.6 1435.7 1135.7C1433.1 1137.9 1430.5 1139.8 1427.9 1141.6C1425.2 1143.4 1422.6 1145.2 1420 1146.5C1417.4 1147.8 1414.4 1149 1412.1 1149.5C1409.8 1150 1407.9 1150 1406.2 1149.5C1404.6 1149 1402.9 1147.8 1402.3 1146.5C1401.6 1145.2 1401.8 1143.3 1402.3 1141.6C1402.8 1140 1404.2 1138.3 1405.2 1136.7C1406.2 1135.1 1407.6 1133.1 1408.2 1131.8C1408.8 1130.5 1408.7 1128.8 1408.7 1128.8C1408.7 1128.8 1406 1130.3 1404.2 1130.8C1402.5 1131.3 1399.7 1131.5 1398.3 1131.8C1397 1132 1396.3 1131.3 1395.9 1132.3C1395.5 1133.3 1396.1 1135.5 1395.9 1137.7C1395.6 1139.9 1395 1143.3 1394.4 1145.6C1393.8 1147.8 1393 1150.1 1392.4 1151.5C1391.9 1152.8 1391.3 1153.6 1391.3 1153.6C1391.3 1153.6 1390.5 1152 1390 1150.5C1389.4 1149 1388.5 1146.7 1388 1144.6C1387.5 1142.4 1387.3 1139.7 1387 1137.7C1386.8 1135.6 1387.3 1133.3 1386.5 1132.3C1385.8 1131.2 1384.1 1131.7 1382.6 1131.3C1381.1 1130.9 1378.8 1130.2 1377.7 1129.8C1376.5 1129.4 1375.7 1128.8 1375.7 1128.8C1375.7 1128.8 1376.2 1131.3 1376.7 1132.8C1377.2 1134.2 1378.2 1136 1378.7 1137.7C1379.2 1139.3 1379.8 1141.1 1379.7 1142.6C1379.5 1144.1 1378.8 1145.6 1377.7 1146.5C1376.5 1147.5 1374.6 1148.3 1372.8 1148.5C1371 1148.7 1368.8 1148.5 1366.9 1147.5C1364.9 1146.5 1363.1 1144.6 1361 1142.6C1358.8 1140.6 1356.4 1138.2 1354.1 1135.7C1351.8 1133.3 1349.3 1130.5 1347.2 1127.9C1345.1 1125.2 1343.3 1122.4 1341.3 1120C1339.3 1117.5 1337.4 1115.2 1335.4 1113.1C1333.4 1111 1331.3 1109 1329.5 1107.2C1327.7 1105.4 1326.1 1103.6 1324.6 1102.3C1323.1 1101 1320.5 1099.3 1320.5 1099.3C1320.5 1099.3 1323.1 1099 1324.6 1098.3C1326.1 1097.7 1328.4 1096.4 1329.5 1095.4C1330.7 1094.4 1331.2 1094.2 1331.5 1092.4C1331.7 1090.6 1331.3 1087.2 1331 1084.6C1330.7 1082 1329.8 1078.8 1329.5 1076.7C1329.2 1074.6 1329 1072.1 1329 1072.1C1329 1072.1 1330.4 1073.2 1331.5 1074.7C1332.5 1076.3 1334.1 1079.7 1335.4 1081.6C1336.7 1083.6 1338.2 1085.7 1339.3 1086.5C1340.5 1087.4 1341.6 1087.4 1342.3 1086.5C1342.9 1085.7 1342.9 1082.9 1343.3 1081.6C1343.7 1080.3 1344.7 1078.7 1344.7 1078.7C1344.7 1078.7 1345.8 1082.1 1346.2 1083.6C1346.7 1085.1 1346.3 1086.5 1347.4 1087.5C1348.6 1088.5 1351.2 1088.7 1353.1 1089.5C1355 1090.3 1357.2 1091.5 1359 1092.4C1360.8 1093.3 1362.5 1094.4 1363.9 1094.9C1365.4 1095.4 1367.2 1096.5 1367.9 1095.4C1368.5 1094.3 1367.7 1090.8 1367.9 1088.5C1368 1086.2 1368.5 1083.8 1368.8 1081.6C1369.2 1079.5 1370.5 1076.5 1369.8 1075.7C1369.2 1074.9 1366.7 1076.2 1364.9 1076.7C1363.1 1077.2 1361 1078.2 1359 1078.7C1357 1079.2 1354.7 1079.8 1353.1 1079.7C1351.5 1079.5 1350.2 1078.8 1349.2 1077.7C1348.2 1076.5 1347.5 1074.9 1347.2 1072.8C1346.9 1070.6 1347 1067.5 1347.2 1064.9C1347.5 1062.3 1348 1059.7 1348.7 1057C1349.3 1054.4 1350.5 1051.8 1351.1 1049.2C1351.8 1046.6 1352.5 1043.9 1352.6 1041.3C1352.8 1038.7 1352.3 1035.4 1352.1 1033.4C1352 1031.5 1351.5 1030.4 1351.6 1029.5C1351.8 1028.7 1353.1 1028.3 1353.1 1028.3C1353.1 1028.3 1354.4 1031.7 1354.9 1033.4C1355.4 1035.1 1355.4 1038.2 1356.1 1038.6C1356.7 1038.9 1357.9 1037.1 1359 1035.4C1360.2 1033.7 1361.4 1030.5 1362.9 1028.5C1364.5 1026.6 1368.1 1023.6 1368.1 1023.6C1368.1 1023.6 1367.6 1026.7 1366.9 1028.5C1366.2 1030.3 1364.5 1032.6 1363.9 1034.4C1363.3 1036.2 1362.3 1039.5 1363.1 1039.3C1364 1039.2 1367.2 1035.2 1368.8 1033.4C1370.4 1031.6 1371.3 1030.3 1372.8 1028.5C1374.3 1026.7 1376.1 1024.4 1377.7 1022.6C1379.3 1020.8 1381 1019.1 1382.6 1017.7C1384.3 1016.3 1385.9 1015 1387.5 1014.3C1389.2 1013.5 1390.5 1013.2 1392.4 1013.3Z"/>
<path d="M1367.4 1041.8C1367.7 1041.4 1369.1 1041.9 1369.3 1042.3C1369.6 1042.7 1369.2 1043.8 1368.8 1044.3C1368.5 1044.7 1367.6 1045.2 1367.4 1044.7C1367.1 1044.3 1367 1042.2 1367.4 1041.8Z" fill="#fff"/>
<path d="M1365.4 1051.1C1366.2 1049.9 1367.4 1049.3 1367.9 1050.2C1368.4 1051 1368.7 1054.3 1368.4 1056.1C1368 1057.9 1367.1 1059.7 1365.9 1061C1364.7 1062.3 1362 1063.9 1361 1063.9C1359.9 1063.9 1359.2 1062 1359.5 1061C1359.8 1059.9 1362 1059.2 1362.9 1057.5C1363.9 1055.9 1364.6 1052.4 1365.4 1051.1Z" fill="#fff"/>
<path d="M1416.5 1037.9C1417 1037.5 1418.4 1038.8 1419 1039.8C1419.6 1040.9 1420.3 1043.4 1420.2 1044.3C1420.1 1045.2 1419.2 1045.6 1418.5 1045.2C1417.8 1044.9 1416.4 1043.5 1416.1 1042.3C1415.7 1041.1 1416.1 1038.3 1416.5 1037.9Z" fill="#fff"/>
<path d="M1418.5 1049.2C1419 1048.7 1419.8 1049 1420.5 1050.2C1421.1 1051.3 1421.5 1054.7 1422.4 1056.1C1423.4 1057.4 1425.6 1057.1 1426.4 1058C1427.2 1058.9 1427.8 1060.6 1427.4 1061.5C1427 1062.3 1425.2 1063.4 1423.9 1062.9C1422.6 1062.5 1420.6 1060.6 1419.5 1059C1418.4 1057.4 1417.7 1054.7 1417.5 1053.1C1417.4 1051.5 1418 1049.7 1418.5 1049.2Z" fill="#fff"/>
</g>
</svg>
</body></html>
